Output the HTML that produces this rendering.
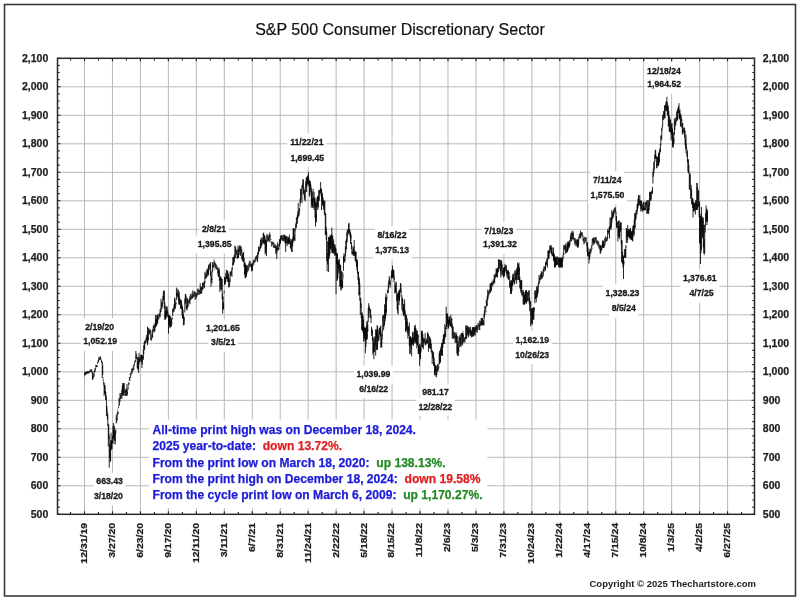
<!DOCTYPE html>
<html><head><meta charset="utf-8"><style>
html,body{margin:0;padding:0;background:#fff;width:800px;height:600px;overflow:hidden}
svg{display:block}
</style></head><body>
<svg width="800" height="600" viewBox="0 0 800 600">
<rect x="4.5" y="4.5" width="791" height="591.5" fill="none" stroke="#3a3a3a" stroke-width="1.6"/>
<text x="400" y="34.7" text-anchor="middle" font-size="16" fill="#111" stroke="#111" stroke-width="0.2" font-family="Liberation Sans, Arial, sans-serif">S&amp;P 500 Consumer Discretionary Sector</text>
<path d="M57.5 485.80H754.5 M57.5 457.30H754.5 M57.5 428.80H754.5 M57.5 400.30H754.5 M57.5 371.80H754.5 M57.5 343.30H754.5 M57.5 314.80H754.5 M57.5 286.30H754.5 M57.5 257.80H754.5 M57.5 229.30H754.5 M57.5 200.80H754.5 M57.5 172.30H754.5 M57.5 143.80H754.5 M57.5 115.30H754.5 M57.5 86.80H754.5" stroke="#b9b9b9" stroke-width="1" fill="none"/>
<path d="M84.50 58.3V514.3 M112.46 58.3V514.3 M140.42 58.3V514.3 M168.38 58.3V514.3 M196.34 58.3V514.3 M224.30 58.3V514.3 M252.26 58.3V514.3 M280.22 58.3V514.3 M308.18 58.3V514.3 M336.14 58.3V514.3 M364.10 58.3V514.3 M392.06 58.3V514.3 M420.02 58.3V514.3 M447.98 58.3V514.3 M475.94 58.3V514.3 M503.90 58.3V514.3 M531.86 58.3V514.3 M559.82 58.3V514.3 M587.78 58.3V514.3 M615.74 58.3V514.3 M643.70 58.3V514.3 M671.66 58.3V514.3 M699.62 58.3V514.3 M727.58 58.3V514.3" stroke="#b8b8b8" stroke-width="1" fill="none"/>
<path d="M57.5 514.30h3M754.5 514.30h-3 M57.5 507.17h2.2M754.5 507.17h-2.2 M57.5 500.05h2.2M754.5 500.05h-2.2 M57.5 492.92h2.2M754.5 492.92h-2.2 M57.5 485.80h3M754.5 485.80h-3 M57.5 478.67h2.2M754.5 478.67h-2.2 M57.5 471.55h2.2M754.5 471.55h-2.2 M57.5 464.42h2.2M754.5 464.42h-2.2 M57.5 457.30h3M754.5 457.30h-3 M57.5 450.17h2.2M754.5 450.17h-2.2 M57.5 443.05h2.2M754.5 443.05h-2.2 M57.5 435.92h2.2M754.5 435.92h-2.2 M57.5 428.80h3M754.5 428.80h-3 M57.5 421.67h2.2M754.5 421.67h-2.2 M57.5 414.55h2.2M754.5 414.55h-2.2 M57.5 407.42h2.2M754.5 407.42h-2.2 M57.5 400.30h3M754.5 400.30h-3 M57.5 393.17h2.2M754.5 393.17h-2.2 M57.5 386.05h2.2M754.5 386.05h-2.2 M57.5 378.92h2.2M754.5 378.92h-2.2 M57.5 371.80h3M754.5 371.80h-3 M57.5 364.67h2.2M754.5 364.67h-2.2 M57.5 357.55h2.2M754.5 357.55h-2.2 M57.5 350.42h2.2M754.5 350.42h-2.2 M57.5 343.30h3M754.5 343.30h-3 M57.5 336.17h2.2M754.5 336.17h-2.2 M57.5 329.05h2.2M754.5 329.05h-2.2 M57.5 321.92h2.2M754.5 321.92h-2.2 M57.5 314.80h3M754.5 314.80h-3 M57.5 307.67h2.2M754.5 307.67h-2.2 M57.5 300.55h2.2M754.5 300.55h-2.2 M57.5 293.42h2.2M754.5 293.42h-2.2 M57.5 286.30h3M754.5 286.30h-3 M57.5 279.17h2.2M754.5 279.17h-2.2 M57.5 272.05h2.2M754.5 272.05h-2.2 M57.5 264.92h2.2M754.5 264.92h-2.2 M57.5 257.80h3M754.5 257.80h-3 M57.5 250.67h2.2M754.5 250.67h-2.2 M57.5 243.55h2.2M754.5 243.55h-2.2 M57.5 236.42h2.2M754.5 236.42h-2.2 M57.5 229.30h3M754.5 229.30h-3 M57.5 222.17h2.2M754.5 222.17h-2.2 M57.5 215.05h2.2M754.5 215.05h-2.2 M57.5 207.92h2.2M754.5 207.92h-2.2 M57.5 200.80h3M754.5 200.80h-3 M57.5 193.67h2.2M754.5 193.67h-2.2 M57.5 186.55h2.2M754.5 186.55h-2.2 M57.5 179.42h2.2M754.5 179.42h-2.2 M57.5 172.30h3M754.5 172.30h-3 M57.5 165.17h2.2M754.5 165.17h-2.2 M57.5 158.05h2.2M754.5 158.05h-2.2 M57.5 150.92h2.2M754.5 150.92h-2.2 M57.5 143.80h3M754.5 143.80h-3 M57.5 136.67h2.2M754.5 136.67h-2.2 M57.5 129.55h2.2M754.5 129.55h-2.2 M57.5 122.42h2.2M754.5 122.42h-2.2 M57.5 115.30h3M754.5 115.30h-3 M57.5 108.17h2.2M754.5 108.17h-2.2 M57.5 101.05h2.2M754.5 101.05h-2.2 M57.5 93.92h2.2M754.5 93.92h-2.2 M57.5 86.80h3M754.5 86.80h-3 M57.5 79.67h2.2M754.5 79.67h-2.2 M57.5 72.55h2.2M754.5 72.55h-2.2 M57.5 65.42h2.2M754.5 65.42h-2.2 M57.5 58.30h3M754.5 58.30h-3 M70.52 58.3v2.2M70.52 514.3v-2.2 M84.50 58.3v3M84.50 514.3v-3 M98.48 58.3v2.2M98.48 514.3v-2.2 M112.46 58.3v3M112.46 514.3v-3 M126.44 58.3v2.2M126.44 514.3v-2.2 M140.42 58.3v3M140.42 514.3v-3 M154.40 58.3v2.2M154.40 514.3v-2.2 M168.38 58.3v3M168.38 514.3v-3 M182.36 58.3v2.2M182.36 514.3v-2.2 M196.34 58.3v3M196.34 514.3v-3 M210.32 58.3v2.2M210.32 514.3v-2.2 M224.30 58.3v3M224.30 514.3v-3 M238.28 58.3v2.2M238.28 514.3v-2.2 M252.26 58.3v3M252.26 514.3v-3 M266.24 58.3v2.2M266.24 514.3v-2.2 M280.22 58.3v3M280.22 514.3v-3 M294.20 58.3v2.2M294.20 514.3v-2.2 M308.18 58.3v3M308.18 514.3v-3 M322.16 58.3v2.2M322.16 514.3v-2.2 M336.14 58.3v3M336.14 514.3v-3 M350.12 58.3v2.2M350.12 514.3v-2.2 M364.10 58.3v3M364.10 514.3v-3 M378.08 58.3v2.2M378.08 514.3v-2.2 M392.06 58.3v3M392.06 514.3v-3 M406.04 58.3v2.2M406.04 514.3v-2.2 M420.02 58.3v3M420.02 514.3v-3 M434.00 58.3v2.2M434.00 514.3v-2.2 M447.98 58.3v3M447.98 514.3v-3 M461.96 58.3v2.2M461.96 514.3v-2.2 M475.94 58.3v3M475.94 514.3v-3 M489.92 58.3v2.2M489.92 514.3v-2.2 M503.90 58.3v3M503.90 514.3v-3 M517.88 58.3v2.2M517.88 514.3v-2.2 M531.86 58.3v3M531.86 514.3v-3 M545.84 58.3v2.2M545.84 514.3v-2.2 M559.82 58.3v3M559.82 514.3v-3 M573.80 58.3v2.2M573.80 514.3v-2.2 M587.78 58.3v3M587.78 514.3v-3 M601.76 58.3v2.2M601.76 514.3v-2.2 M615.74 58.3v3M615.74 514.3v-3 M629.72 58.3v2.2M629.72 514.3v-2.2 M643.70 58.3v3M643.70 514.3v-3 M657.68 58.3v2.2M657.68 514.3v-2.2 M671.66 58.3v3M671.66 514.3v-3 M685.64 58.3v2.2M685.64 514.3v-2.2 M699.62 58.3v3M699.62 514.3v-3 M713.60 58.3v2.2M713.60 514.3v-2.2 M727.58 58.3v3M727.58 514.3v-3 M741.56 58.3v2.2M741.56 514.3v-2.2" stroke="#222" stroke-width="1.1" fill="none"/>
<g font-size="10.5" font-weight="bold" fill="#1e1e1e" stroke="#1e1e1e" stroke-width="0.25" font-family="Liberation Sans, Arial, sans-serif"><text x="48.3" y="517.60" text-anchor="end">500</text><text x="762.8" y="517.60">500</text><text x="48.3" y="489.10" text-anchor="end">600</text><text x="762.8" y="489.10">600</text><text x="48.3" y="460.60" text-anchor="end">700</text><text x="762.8" y="460.60">700</text><text x="48.3" y="432.10" text-anchor="end">800</text><text x="762.8" y="432.10">800</text><text x="48.3" y="403.60" text-anchor="end">900</text><text x="762.8" y="403.60">900</text><text x="48.3" y="375.10" text-anchor="end">1,000</text><text x="762.8" y="375.10">1,000</text><text x="48.3" y="346.60" text-anchor="end">1,100</text><text x="762.8" y="346.60">1,100</text><text x="48.3" y="318.10" text-anchor="end">1,200</text><text x="762.8" y="318.10">1,200</text><text x="48.3" y="289.60" text-anchor="end">1,300</text><text x="762.8" y="289.60">1,300</text><text x="48.3" y="261.10" text-anchor="end">1,400</text><text x="762.8" y="261.10">1,400</text><text x="48.3" y="232.60" text-anchor="end">1,500</text><text x="762.8" y="232.60">1,500</text><text x="48.3" y="204.10" text-anchor="end">1,600</text><text x="762.8" y="204.10">1,600</text><text x="48.3" y="175.60" text-anchor="end">1,700</text><text x="762.8" y="175.60">1,700</text><text x="48.3" y="147.10" text-anchor="end">1,800</text><text x="762.8" y="147.10">1,800</text><text x="48.3" y="118.60" text-anchor="end">1,900</text><text x="762.8" y="118.60">1,900</text><text x="48.3" y="90.10" text-anchor="end">2,000</text><text x="762.8" y="90.10">2,000</text><text x="48.3" y="61.60" text-anchor="end">2,100</text><text x="762.8" y="61.60">2,100</text></g>
<g font-size="10.5" font-weight="bold" fill="#1e1e1e" stroke="#1e1e1e" stroke-width="0.25" font-family="Liberation Sans, Arial, sans-serif"><text transform="translate(86.90 522.8) rotate(-90) scale(1 0.92)" text-anchor="end">12/31/19</text><text transform="translate(114.86 522.8) rotate(-90) scale(1 0.92)" text-anchor="end">3/27/20</text><text transform="translate(142.82 522.8) rotate(-90) scale(1 0.92)" text-anchor="end">6/23/20</text><text transform="translate(170.78 522.8) rotate(-90) scale(1 0.92)" text-anchor="end">9/17/20</text><text transform="translate(198.74 522.8) rotate(-90) scale(1 0.92)" text-anchor="end">12/11/20</text><text transform="translate(226.70 522.8) rotate(-90) scale(1 0.92)" text-anchor="end">3/11/21</text><text transform="translate(254.66 522.8) rotate(-90) scale(1 0.92)" text-anchor="end">6/7/21</text><text transform="translate(282.62 522.8) rotate(-90) scale(1 0.92)" text-anchor="end">8/31/21</text><text transform="translate(310.58 522.8) rotate(-90) scale(1 0.92)" text-anchor="end">11/24/21</text><text transform="translate(338.54 522.8) rotate(-90) scale(1 0.92)" text-anchor="end">2/22/22</text><text transform="translate(366.50 522.8) rotate(-90) scale(1 0.92)" text-anchor="end">5/18/22</text><text transform="translate(394.46 522.8) rotate(-90) scale(1 0.92)" text-anchor="end">8/15/22</text><text transform="translate(422.42 522.8) rotate(-90) scale(1 0.92)" text-anchor="end">11/8/22</text><text transform="translate(450.38 522.8) rotate(-90) scale(1 0.92)" text-anchor="end">2/6/23</text><text transform="translate(478.34 522.8) rotate(-90) scale(1 0.92)" text-anchor="end">5/3/23</text><text transform="translate(506.30 522.8) rotate(-90) scale(1 0.92)" text-anchor="end">7/31/23</text><text transform="translate(534.26 522.8) rotate(-90) scale(1 0.92)" text-anchor="end">10/24/23</text><text transform="translate(562.22 522.8) rotate(-90) scale(1 0.92)" text-anchor="end">1/22/24</text><text transform="translate(590.18 522.8) rotate(-90) scale(1 0.92)" text-anchor="end">4/17/24</text><text transform="translate(618.14 522.8) rotate(-90) scale(1 0.92)" text-anchor="end">7/15/24</text><text transform="translate(646.10 522.8) rotate(-90) scale(1 0.92)" text-anchor="end">10/8/24</text><text transform="translate(674.06 522.8) rotate(-90) scale(1 0.92)" text-anchor="end">1/3/25</text><text transform="translate(702.02 522.8) rotate(-90) scale(1 0.92)" text-anchor="end">4/2/25</text><text transform="translate(729.98 522.8) rotate(-90) scale(1 0.92)" text-anchor="end">6/27/25</text></g>
<path d="M84.50 372.0V376.5M84.97 372.0V375.2M85.43 371.9V375.3M85.90 371.5V374.5M86.37 371.5V374.5M86.83 371.5V374.1M87.30 371.5V373.5M87.77 371.5V374.0M88.23 371.5V373.6M88.70 371.5V373.3M89.17 371.5V373.2M89.63 370.9V372.7M90.10 369.7V372.0M90.57 369.6V371.5M91.03 369.0V371.5M91.50 369.9V372.1M91.97 370.0V374.0M92.90 375.6V379.3M93.37 373.1V378.7M93.83 371.0V377.0M94.30 370.3V375.9M94.77 368.0V372.0M95.23 368.0V372.0M95.70 365.0V369.3M96.17 365.0V367.6M96.63 365.0V367.0M97.10 365.2V367.0M97.57 361.8V364.5M98.03 360.0V363.0M98.50 357.0V362.0M98.97 357.4V361.0M99.43 357.5V360.0M99.90 356.5V360.1M100.37 356.5V360.0M100.83 358.0V360.1M101.30 360.0V362.4M101.77 360.0V363.6M103.17 377.1V383.0M103.63 382.0V386.0M105.97 392.0V397.7M115.77 428.4V434.0M116.70 417.5V423.3M117.63 409.3V415.0M118.10 411.2V414.3M118.57 405.9V408.3M119.50 398.5V405.3M120.43 395.1V399.0M120.90 393.0V398.8M121.37 393.0V397.5M124.63 389.2V396.0M125.10 390.4V396.0M125.57 390.0V395.7M126.50 388.4V394.9M127.43 389.8V395.4M127.90 387.2V390.4M128.37 382.5V388.0M128.83 381.7V385.3M129.30 377.1V381.0M129.77 377.0V381.0M130.23 373.0V378.1M130.70 373.0V378.0M131.17 371.1V375.5M131.63 368.4V374.0M132.10 368.0V374.0M132.57 368.7V372.2M133.03 366.6V371.3M133.50 364.9V370.0M133.97 364.0V370.0M134.43 361.9V365.8M134.90 360.0V363.0M135.37 359.3V362.4M136.30 353.9V359.0M136.77 353.5V359.7M139.57 357.4V362.0M140.03 357.3V361.8M140.50 355.1V361.6M140.97 354.8V360.7M142.83 355.0V360.3M145.17 340.7V343.7M145.63 338.7V343.5M146.10 336.7V342.4M146.57 334.8V341.8M147.97 337.1V343.0M148.90 328.2V334.0M149.37 329.6V334.8M149.83 329.0V335.1M150.30 328.9V333.5M151.23 335.6V340.7M151.70 334.0V340.7M152.17 331.3V337.2M153.10 326.2V332.0M153.57 324.3V330.2M154.50 325.0V331.7M158.23 313.7V319.6M158.70 316.4V319.7M159.17 313.1V317.3M159.63 312.7V317.3M160.57 308.2V313.4M161.50 302.5V308.7M162.43 301.1V307.1M167.57 309.6V316.1M168.03 311.8V316.7M171.77 319.9V324.5M172.23 316.4V320.1M173.17 307.8V313.0M173.63 306.8V311.8M175.50 302.6V309.0M175.97 300.2V306.0M176.90 291.4V296.0M177.37 292.3V297.5M180.17 299.1V302.8M184.37 317.0V323.0M186.70 305.0V310.2M188.10 302.8V306.5M188.57 299.7V304.3M189.03 298.8V302.9M189.50 297.9V303.4M190.43 294.0V299.7M190.90 293.7V299.7M191.37 295.6V299.7M191.83 292.7V298.3M192.30 294.9V298.9M193.23 292.0V297.1M193.70 294.4V297.3M194.17 290.9V297.3M194.63 291.1V295.7M195.57 293.3V297.4M196.03 292.7V298.8M196.50 293.3V298.4M196.97 292.1V296.8M197.43 289.3V295.6M197.90 288.0V294.8M198.37 288.7V295.0M198.83 289.4V293.6M199.30 289.7V295.0M199.77 290.0V294.4M200.70 286.8V293.8M201.63 286.9V293.8M202.10 286.9V291.9M203.03 282.4V287.4M203.50 282.6V289.2M203.97 282.2V286.5M205.37 273.0V278.7M205.83 273.3V278.8M206.30 272.7V278.4M207.23 270.2V273.3M209.10 264.4V269.4M209.57 263.6V270.5M210.03 262.6V267.1M211.43 276.1V282.3M212.83 264.5V271.0M213.30 263.4V268.0M213.77 261.1V267.5M214.23 259.3V265.2M214.70 261.0V267.7M215.17 263.0V269.8M215.63 262.8V268.2M216.10 263.9V267.9M216.57 264.8V269.8M217.03 266.7V270.0M217.50 266.6V273.6M217.97 270.5V276.2M220.77 277.1V284.0M224.03 290.5V294.1M224.97 277.5V284.4M226.83 275.7V279.0M229.63 279.4V286.3M230.57 271.8V275.9M231.03 271.1V275.4M231.50 269.8V275.8M232.43 262.7V269.2M235.23 245.8V252.7M236.17 250.2V254.5M236.63 249.3V254.9M237.57 253.3V258.5M238.97 247.1V251.6M239.43 245.5V252.0M240.83 245.5V250.8M241.30 247.0V253.8M242.23 255.3V260.9M247.37 265.4V272.1M247.83 266.8V271.3M248.30 264.3V271.1M248.77 263.2V269.8M249.23 260.8V267.7M249.70 260.8V266.7M250.17 260.8V266.7M250.63 262.4V266.7M251.10 262.8V267.5M252.03 265.9V271.3M252.97 261.2V266.7M253.43 259.7V264.3M253.90 260.0V265.5M254.37 259.8V262.7M254.83 259.2V262.7M255.30 257.5V262.1M255.77 256.2V260.5M256.23 255.6V260.0M256.70 255.0V259.3M257.17 255.4V262.0M258.10 250.5V256.9M259.03 246.8V251.1M259.50 246.8V252.1M259.97 244.5V250.8M261.37 240.5V246.8M262.30 237.4V243.0M262.77 238.8V244.6M267.43 235.0V241.0M267.90 235.6V240.4M268.37 236.4V241.4M268.83 234.8V241.6M269.77 231.7V238.6M270.23 234.5V237.9M270.70 238.0V241.5M271.17 241.4V244.3M271.63 241.6V246.8M272.10 242.2V246.5M272.57 241.7V244.7M273.03 242.3V245.0M273.50 241.6V247.7M273.97 245.3V248.0M274.43 244.4V248.0M274.90 243.3V247.9M275.37 244.6V249.4M276.30 247.3V253.8M277.23 245.5V252.3M278.17 243.6V250.3M278.63 247.1V250.3M279.10 244.0V249.2M280.03 239.3V244.2M280.97 235.2V240.8M281.43 235.2V240.6M281.90 235.1V240.1M282.37 235.9V241.1M282.83 234.6V240.6M283.30 234.9V241.2M283.77 235.3V241.3M284.70 234.7V239.7M286.57 236.2V243.0M287.50 238.4V243.5M288.90 238.2V242.9M289.83 238.0V243.6M291.23 241.0V248.0M294.50 235.0V240.3M295.43 223.5V230.2M295.90 223.3V228.3M296.83 217.7V224.4M298.70 210.2V216.4M299.63 207.2V212.1M301.50 188.6V195.6M302.43 183.2V189.7M304.77 193.8V200.2M308.03 175.2V180.4M313.63 196.3V202.6M319.70 190.2V194.8M320.17 188.0V193.6M323.90 201.0V207.7M334.17 246.4V252.4M343.03 272.5V279.4M344.43 256.9V262.4M347.70 229.1V234.8M348.17 228.7V235.3M349.57 229.2V235.0M352.37 250.7V254.5M352.83 248.5V254.8M354.70 249.9V256.4M369.17 305.3V311.0M369.63 306.5V312.8M371.97 327.7V333.6M378.50 335.3V340.5M379.90 327.6V334.1M383.17 314.8V321.3M384.10 321.2V327.5M386.90 294.5V301.2M387.37 289.1V293.5M387.83 289.9V293.5M389.70 277.9V283.6M390.17 280.3V286.8M390.63 281.5V287.7M391.10 275.2V281.6M394.37 275.2V280.2M401.37 290.7V294.3M408.83 326.8V332.6M412.10 338.4V344.5M423.77 338.8V343.4M424.23 338.8V342.8M424.70 337.6V343.5M425.63 340.9V345.0M426.10 338.8V345.0M426.57 338.2V344.0M427.03 338.9V343.5M427.97 331.8V337.8M428.90 342.6V347.9M431.70 347.9V353.8M433.10 351.5V358.3M437.30 364.0V370.8M438.23 365.3V370.9M438.70 363.5V369.4M445.23 330.6V337.3M448.97 317.7V323.8M450.37 321.5V326.8M453.63 333.3V338.9M454.10 331.6V338.5M454.57 332.1V338.0M455.50 335.1V340.2M459.70 336.5V341.6M461.57 333.0V338.1M462.97 330.7V337.1M463.90 337.3V341.5M464.37 337.3V342.2M464.83 337.3V342.6M465.30 336.9V340.7M467.17 325.6V329.7M469.50 327.7V333.1M469.97 329.1V335.4M470.90 330.7V334.7M471.83 330.8V337.2M474.17 327.1V333.8M475.57 326.3V332.1M476.03 327.3V331.7M476.50 325.0V331.1M477.43 326.1V331.3M477.90 322.5V329.4M478.37 323.1V327.4M478.83 323.8V330.0M479.30 323.6V329.5M480.23 321.1V326.3M480.70 321.1V325.5M482.10 317.9V322.5M483.03 320.5V325.4M483.50 319.9V325.4M485.37 306.0V309.7M485.83 306.4V312.5M486.77 300.7V306.0M488.17 291.6V298.5M488.63 290.4V296.7M489.10 289.9V295.4M489.57 289.4V293.0M490.97 286.0V290.4M491.90 282.1V286.1M492.37 280.5V287.3M492.83 281.4V285.1M493.30 278.8V285.3M493.77 279.5V283.3M495.17 274.5V279.0M495.63 272.7V278.0M497.03 268.5V273.5M497.97 267.0V273.5M499.37 259.5V265.0M502.63 269.6V275.2M503.10 267.9V274.0M505.43 265.6V270.9M505.90 265.0V270.6M506.83 270.5V276.6M507.77 271.2V274.4M509.17 272.3V276.1M510.10 282.1V288.5M513.83 277.3V283.0M514.30 279.0V284.6M515.70 273.3V280.0M522.23 291.7V296.6M522.70 290.0V295.5M526.90 292.1V297.2M527.83 296.1V301.3M528.77 291.2V296.4M530.17 300.7V306.9M534.37 307.0V311.9M535.77 293.1V299.0M538.57 281.2V286.9M539.50 277.6V283.8M539.97 275.0V281.8M540.43 273.6V280.1M540.90 273.5V279.8M542.30 274.5V277.8M542.77 272.1V277.9M543.70 266.3V273.1M544.17 266.3V271.9M544.63 266.3V269.6M545.10 266.0V271.4M546.03 261.5V265.5M546.50 258.8V265.6M546.97 258.8V265.4M549.30 249.6V256.3M550.23 245.0V250.1M550.70 246.2V252.5M552.57 252.7V256.3M553.03 251.9V256.3M557.23 260.4V265.0M558.17 257.0V262.3M562.83 255.0V261.8M563.30 252.5V259.3M564.23 245.0V250.2M564.70 245.0V249.4M565.17 245.1V250.8M566.10 246.8V252.8M566.57 246.2V252.5M568.90 243.0V246.8M569.83 240.0V245.9M570.30 236.3V242.7M571.23 235.4V241.6M572.63 233.0V238.9M573.57 233.4V240.2M574.03 237.2V241.4M574.50 238.0V244.4M574.97 240.2V244.4M575.43 238.0V243.0M576.37 240.1V246.1M576.83 239.1V244.5M579.17 234.2V238.8M579.63 233.5V237.9M580.10 233.6V237.9M581.03 232.4V238.9M581.50 232.4V236.1M581.97 232.4V234.7M582.43 232.4V237.0M582.90 234.9V241.0M583.37 238.1V244.4M583.83 236.1V242.2M584.30 238.1V244.2M584.77 236.9V243.3M585.23 237.1V240.5M585.70 237.4V242.5M586.17 237.0V242.0M586.63 241.4V246.4M588.50 251.7V257.1M590.37 248.6V253.6M590.83 248.6V254.4M591.30 245.7V252.2M591.77 244.5V249.8M592.70 238.0V242.8M593.17 238.3V242.1M594.57 239.4V242.7M595.03 237.8V242.5M595.50 237.0V242.5M595.97 237.1V240.8M596.43 238.0V243.8M596.90 239.8V244.5M597.37 240.9V244.8M597.83 240.2V246.4M598.30 241.0V245.4M598.77 241.6V247.5M599.23 243.7V249.6M599.70 244.9V249.3M601.10 245.3V251.2M601.57 246.0V251.2M602.03 243.7V250.1M603.90 240.7V246.7M604.37 243.1V248.0M605.30 236.4V243.4M605.77 236.0V242.2M606.23 237.3V241.7M606.70 237.5V241.5M607.17 237.0V241.1M608.10 228.2V235.1M608.57 229.9V233.7M609.03 226.9V233.5M610.43 223.0V229.1M612.77 212.5V219.0M613.23 211.6V218.2M614.17 208.0V213.9M614.63 207.9V213.4M615.10 207.0V212.1M615.57 207.0V212.9M616.97 221.4V228.0M617.43 221.9V227.2M623.97 259.5V265.5M624.90 253.0V258.0M636.57 210.0V214.5M639.37 200.1V205.0M640.30 200.9V206.8M642.63 205.4V211.4M643.10 205.6V211.1M644.50 206.7V210.3M644.97 206.5V210.3M645.90 202.0V206.1M646.37 201.6V207.2M647.77 207.9V212.8M651.50 190.9V197.3M651.97 190.0V193.8M656.17 155.3V161.2M658.03 156.6V163.4M659.90 147.7V154.3M661.30 135.1V140.5M662.23 124.9V130.4M663.17 114.8V119.9M664.10 111.1V117.7M665.50 104.7V110.5M675.30 119.2V126.2M676.23 118.5V122.0M678.10 106.8V113.4M681.37 115.7V121.7M683.23 127.5V134.4M683.70 128.1V132.5M684.17 127.7V133.4M686.50 143.5V149.5M692.10 197.8V204.6M694.90 202.5V208.4" fill="none" stroke="#000" stroke-width="0.5"/><path d="M92.43 372.4V380.0M102.23 362.0V378.0M102.70 364.5V375.1M104.10 382.6V396.0M104.57 384.8V394.0M105.03 385.0V393.6M105.50 390.9V400.0M106.43 396.8V416.0M106.90 405.8V412.8M107.37 411.9V419.6M107.83 414.0V426.0M108.30 424.5V446.7M108.77 424.5V439.4M109.23 435.2V467.7M109.70 444.0V457.6M110.17 446.8V462.0M110.63 440.4V461.2M111.10 432.7V450.4M111.57 440.2V449.0M112.03 439.8V449.0M112.50 435.8V443.0M112.97 426.4V438.5M113.43 423.0V438.5M113.90 430.0V444.3M114.37 425.7V440.4M114.83 431.7V440.9M115.30 430.1V444.3M116.23 415.0V423.3M117.17 412.9V420.3M119.03 398.0V406.0M119.97 393.0V402.0M121.83 389.6V399.0M122.30 385.8V394.0M122.77 383.0V396.0M123.23 383.0V395.4M123.70 384.2V395.3M124.17 383.0V392.2M126.03 388.7V396.0M126.97 384.0V396.0M135.83 351.0V359.2M137.23 357.0V368.1M137.70 361.2V369.6M138.17 358.0V369.4M138.63 356.9V373.0M139.10 353.0V364.4M141.43 354.6V362.2M141.90 355.0V368.0M142.37 355.5V364.7M143.30 349.6V359.7M143.77 345.2V354.2M144.23 341.9V349.5M144.70 340.7V350.0M147.03 334.8V342.3M147.50 326.7V345.3M148.43 327.8V340.3M150.77 330.4V340.1M152.63 329.3V337.9M154.03 325.5V332.5M154.97 323.1V331.4M155.43 315.0V327.4M155.90 319.6V327.0M156.37 318.3V325.5M156.83 315.0V325.5M157.30 315.3V323.6M157.77 314.6V323.6M160.10 309.0V317.3M161.03 298.7V311.9M161.97 301.5V309.0M162.90 295.9V303.9M163.37 291.3V299.9M163.83 290.5V301.0M164.30 290.5V308.4M164.77 302.0V319.7M165.23 311.0V319.7M165.70 305.7V319.3M166.17 310.3V318.0M166.63 306.8V315.4M167.10 306.4V317.3M168.50 315.0V333.7M168.97 315.0V324.0M169.43 315.0V326.0M169.90 316.8V328.2M170.37 316.0V327.2M170.83 317.9V326.7M171.30 318.3V326.7M172.70 308.8V316.0M174.10 304.3V311.8M174.57 297.5V307.9M175.03 298.8V309.0M176.43 287.6V299.9M177.83 288.7V297.2M178.30 290.6V300.1M178.77 294.5V304.5M179.23 291.7V304.5M179.70 297.3V304.9M180.63 299.7V309.0M181.10 299.7V307.8M181.57 301.4V309.3M182.03 304.7V315.7M182.50 306.7V318.3M182.97 309.3V318.7M183.43 314.0V325.3M183.90 316.4V325.3M184.83 298.5V312.5M185.30 294.0V304.2M185.77 293.8V302.2M186.23 296.6V308.9M187.17 298.5V310.2M187.63 298.3V308.0M189.97 295.8V304.3M192.77 290.3V297.9M195.10 292.1V300.0M200.23 283.3V294.0M201.17 286.5V293.8M202.57 282.8V289.9M204.43 281.0V288.2M204.90 271.7V283.2M206.77 269.4V277.3M207.70 269.0V276.3M208.17 267.0V275.7M208.63 264.8V274.2M210.50 262.3V276.2M210.97 271.2V286.8M211.90 271.7V283.6M212.37 262.0V272.4M218.43 268.4V276.8M218.90 267.5V276.8M219.37 269.6V280.8M219.83 275.7V292.0M220.30 276.3V289.6M221.23 277.6V289.9M221.70 279.0V290.3M222.17 279.0V299.0M222.63 293.8V313.6M223.10 296.7V309.6M223.57 302.4V309.4M224.50 276.8V285.0M225.43 276.8V284.2M225.90 272.8V281.6M226.37 269.8V279.0M227.30 270.3V279.0M227.77 271.0V281.8M228.23 273.3V282.1M228.70 274.8V287.3M229.17 278.1V287.3M230.10 271.5V282.0M231.97 267.3V276.8M232.90 257.0V265.2M233.37 257.0V265.2M233.83 256.8V263.8M234.30 254.7V261.8M234.77 245.5V258.5M235.70 247.0V258.0M237.10 250.0V258.5M238.03 245.5V258.4M238.50 248.4V257.6M239.90 245.5V254.9M240.37 246.4V256.0M241.77 248.9V259.2M242.70 253.6V260.8M243.17 252.0V262.0M243.63 252.5V262.0M244.10 257.7V267.1M244.57 262.0V274.7M245.03 262.2V278.0M245.50 264.2V278.3M245.97 265.5V276.7M246.43 265.5V276.8M246.90 265.0V273.9M251.57 264.0V271.3M252.50 263.2V270.3M257.63 252.5V262.0M258.57 246.8V254.3M260.43 240.1V248.7M260.90 238.4V247.8M261.83 237.5V245.5M263.23 232.8V243.3M263.70 232.8V243.3M264.17 235.1V242.9M264.63 235.3V244.4M265.10 239.1V254.7M265.57 240.2V252.9M266.03 236.3V249.8M266.50 240.6V256.2M266.97 234.0V241.8M269.30 233.7V242.2M275.83 245.7V254.0M276.77 245.5V259.0M277.70 242.2V250.6M279.57 238.9V246.7M280.50 235.9V243.3M284.23 234.6V241.9M285.17 235.7V243.3M285.63 235.8V252.0M286.10 236.5V244.0M287.03 236.2V246.1M287.97 236.9V244.5M288.43 237.1V244.2M289.37 234.6V244.0M290.30 239.2V247.9M290.77 242.3V249.3M291.70 239.4V252.0M292.17 239.4V252.0M292.63 237.7V246.4M293.10 228.3V242.5M293.57 228.3V239.9M294.03 228.3V241.0M294.97 228.4V241.0M296.37 217.2V228.3M297.30 215.1V223.7M297.77 211.8V219.4M298.23 203.0V217.2M299.17 208.2V215.5M300.10 198.7V206.6M300.57 188.7V203.0M301.03 190.5V199.8M301.97 185.1V203.0M302.90 179.2V187.2M303.37 179.6V193.8M303.83 186.6V194.5M304.30 190.1V199.6M305.23 188.7V201.4M305.70 181.6V192.0M306.17 177.7V186.8M306.63 176.8V192.0M307.10 178.4V186.0M307.57 175.7V184.0M308.50 172.1V184.7M308.97 178.8V186.2M309.43 180.8V196.6M309.90 180.8V195.4M310.37 181.3V188.5M310.83 184.5V192.3M311.30 187.6V207.7M311.77 190.7V204.7M312.23 191.4V205.9M312.70 198.2V208.0M313.17 188.7V207.7M314.10 192.0V210.0M314.57 197.7V207.2M315.03 197.6V218.0M315.50 201.8V226.5M315.97 213.1V220.7M316.43 202.8V222.4M316.90 198.1V208.6M317.37 196.0V205.7M317.83 196.8V210.0M318.30 195.4V207.7M318.77 190.2V201.1M319.23 190.2V200.7M320.63 182.0V193.0M321.10 188.3V196.0M321.57 189.1V210.0M322.03 192.5V201.1M322.50 193.6V205.4M322.97 197.2V205.2M323.43 199.5V209.7M324.37 200.7V214.7M324.83 200.7V215.3M325.30 213.5V235.0M325.77 213.5V235.0M326.23 227.2V240.2M326.70 232.0V261.3M327.17 241.0V271.4M327.63 253.1V264.4M328.10 241.6V259.0M328.57 237.0V272.0M329.03 237.0V259.0M329.50 237.1V256.6M329.97 235.1V254.3M330.43 235.6V248.7M330.90 236.1V249.6M331.37 234.0V248.1M331.83 227.5V252.9M332.30 235.5V252.6M332.77 235.8V253.3M333.23 241.8V253.3M333.70 239.5V253.5M334.63 244.0V255.7M335.10 245.0V255.3M335.57 247.5V255.2M336.03 248.7V294.2M336.50 253.3V264.2M336.97 253.3V281.0M337.43 253.3V279.8M337.90 261.4V278.1M338.37 260.1V268.5M338.83 259.6V273.2M339.30 259.0V271.0M339.77 263.7V286.7M340.23 265.0V286.2M340.70 265.0V289.6M341.17 279.8V290.7M341.63 270.8V287.1M342.10 272.0V288.3M342.57 279.7V288.3M343.50 256.2V270.8M343.97 253.3V262.9M344.90 253.7V261.8M345.37 247.0V256.8M345.83 240.9V253.1M346.30 239.3V249.5M346.77 232.4V243.3M347.23 230.0V241.7M348.63 223.6V233.3M349.10 222.8V233.2M350.03 229.8V236.9M350.50 232.2V244.0M350.97 233.8V241.2M351.43 242.0V249.2M351.90 245.2V254.5M353.30 246.8V255.4M353.77 246.7V256.0M354.23 240.0V256.0M355.17 251.7V261.0M355.63 251.7V260.9M356.10 251.7V263.1M356.57 259.0V267.1M357.03 261.8V270.5M357.50 259.8V273.5M357.97 271.5V279.8M358.43 271.7V284.3M358.90 276.5V295.5M359.37 278.5V295.0M359.83 283.3V300.7M360.30 297.5V314.8M360.77 298.3V308.0M361.23 303.5V318.3M361.70 312.5V330.0M362.17 312.5V330.0M362.63 314.4V331.2M363.10 316.0V333.0M363.57 319.5V341.7M364.03 326.3V335.1M364.50 327.7V338.8M364.97 327.7V341.1M365.43 327.7V353.3M365.90 328.2V347.0M366.37 325.7V340.5M366.83 321.5V339.3M367.30 320.7V339.3M367.77 323.9V331.7M368.23 308.0V322.4M368.70 303.2V317.7M370.10 309.0V317.8M370.57 309.0V317.6M371.03 314.7V323.0M371.50 326.7V335.8M372.43 329.9V340.7M372.90 336.4V354.7M373.37 338.2V352.1M373.83 342.9V359.2M374.30 341.3V352.3M374.77 336.6V351.6M375.23 336.5V345.7M375.70 329.4V355.7M376.17 329.1V338.1M376.63 330.5V349.8M377.10 325.3V349.8M377.57 325.7V349.8M378.03 331.7V341.6M378.97 328.8V340.5M379.43 327.7V334.9M380.37 326.7V336.7M380.83 325.3V347.5M381.30 333.1V347.5M381.77 338.9V347.4M382.23 330.6V339.5M382.70 315.7V331.5M383.63 314.8V330.0M384.57 304.3V325.3M385.03 309.3V321.9M385.50 296.9V318.8M385.97 293.5V315.7M386.43 297.5V312.5M388.30 283.8V292.9M388.77 280.5V288.7M389.23 276.0V285.0M391.57 270.8V278.3M392.03 269.6V278.3M392.50 265.5V278.0M392.97 269.1V277.1M393.43 270.2V277.3M393.90 270.2V281.8M394.83 281.4V293.1M395.30 285.9V293.5M395.77 283.3V290.8M396.23 281.8V292.0M396.70 290.8V301.1M397.17 294.1V309.8M397.63 293.5V313.1M398.10 292.9V314.5M398.57 291.4V300.0M399.03 290.7V305.0M399.50 290.0V301.2M399.97 288.7V296.8M400.43 283.0V291.5M400.90 283.5V292.3M401.83 294.7V309.8M402.30 297.4V305.0M402.77 299.1V312.4M403.23 305.6V315.2M403.70 304.0V315.2M404.17 303.8V316.7M404.63 299.3V314.1M405.10 310.3V320.2M405.57 313.3V331.8M406.03 320.5V331.8M406.50 315.0V329.9M406.97 317.6V325.0M407.43 321.4V333.2M407.90 325.7V338.8M408.37 326.0V336.0M409.30 322.5V346.0M409.77 336.5V354.1M410.23 336.5V353.8M410.70 336.5V345.0M411.17 337.2V348.9M411.63 338.4V356.3M412.57 331.8V343.8M413.03 333.1V345.8M413.50 337.3V345.2M413.97 331.7V343.9M414.43 325.7V340.3M414.90 328.1V342.3M415.37 324.8V342.3M415.83 327.9V343.3M416.30 330.2V343.7M416.77 330.7V348.2M417.23 330.7V345.8M417.70 333.9V345.0M418.17 334.8V353.8M418.63 345.2V354.0M419.10 345.2V353.5M419.57 344.3V365.7M420.03 343.5V356.4M420.50 347.2V359.3M420.97 345.5V352.5M421.43 330.7V347.0M421.90 331.5V339.8M422.37 330.7V347.0M422.83 334.0V347.9M423.30 337.7V349.3M425.17 333.0V345.5M427.50 332.5V343.5M428.43 334.1V351.7M429.37 336.5V348.1M429.83 336.5V348.0M430.30 338.5V349.0M430.77 339.4V348.5M431.23 343.4V352.3M432.17 350.7V364.0M432.63 350.7V358.7M433.57 352.4V365.7M434.03 357.2V366.0M434.50 362.0V375.3M434.97 365.7V374.9M435.43 364.8V372.5M435.90 365.6V376.5M436.37 369.3V377.3M436.83 365.9V374.8M437.77 364.2V371.6M439.17 352.7V364.4M439.63 350.7V364.0M440.10 353.9V363.1M440.57 348.7V362.0M441.03 346.4V354.1M441.50 342.7V355.0M441.97 348.3V356.0M442.43 342.7V356.0M442.90 338.9V348.0M443.37 334.8V344.0M443.83 334.2V344.0M444.30 333.3V344.0M444.77 324.0V339.7M445.70 326.2V336.9M446.17 306.7V329.3M446.63 313.8V326.6M447.10 313.3V326.7M447.57 313.6V323.6M448.03 316.1V329.3M448.50 319.7V328.2M449.43 316.9V324.7M449.90 316.2V326.5M450.83 314.7V326.7M451.30 319.0V326.7M451.77 317.9V328.3M452.23 323.5V338.7M452.70 326.7V335.8M453.17 326.7V338.7M455.03 333.1V342.7M455.97 332.0V342.9M456.43 333.8V343.1M456.90 335.3V353.6M457.37 343.7V355.3M457.83 336.0V356.0M458.30 346.9V355.8M458.77 341.0V352.0M459.23 336.9V347.3M460.17 334.7V343.3M460.63 337.2V346.6M461.10 333.3V346.7M462.03 332.9V344.5M462.50 333.0V345.3M463.43 334.9V342.7M465.77 325.3V338.8M466.23 327.9V338.7M466.70 325.3V338.7M467.63 326.2V335.0M468.10 326.7V336.2M468.57 328.7V337.3M469.03 326.7V334.5M470.43 327.0V336.0M471.37 330.0V337.5M472.30 327.3V336.0M472.77 327.1V336.8M473.23 327.0V336.6M473.70 327.5V335.3M474.63 327.5V334.8M475.10 325.6V336.0M476.97 325.1V333.1M479.77 320.5V330.0M481.17 318.0V325.5M481.63 318.0V325.5M482.57 317.9V325.3M483.97 313.7V325.5M484.43 310.3V317.7M484.90 306.0V315.0M486.30 299.4V306.9M487.23 295.5V306.0M487.70 289.5V300.3M490.03 283.5V292.5M490.50 283.5V292.5M491.43 282.2V291.0M494.23 274.5V282.7M494.70 274.6V283.5M496.10 268.5V276.6M496.57 268.8V277.1M497.50 268.1V277.5M498.43 259.5V271.7M498.90 259.5V268.1M499.83 259.7V269.0M500.30 262.6V271.0M500.77 260.0V277.5M501.23 260.0V274.3M501.70 261.4V269.6M502.17 264.5V276.0M503.57 267.5V277.5M504.03 268.8V276.7M504.50 266.6V275.4M504.97 263.8V272.3M506.37 265.3V274.3M507.30 270.0V278.3M508.23 270.0V279.2M508.70 271.3V280.0M509.63 275.6V287.7M510.57 280.5V293.8M511.03 281.9V293.8M511.50 280.0V293.8M511.97 282.6V291.0M512.43 276.5V286.3M512.90 273.8V285.0M513.37 273.8V282.5M514.77 271.2V284.2M515.23 270.0V280.5M516.17 272.4V279.6M516.63 268.8V283.8M517.10 267.6V280.0M517.57 262.5V274.9M518.03 267.1V280.0M518.50 263.9V280.0M518.97 262.5V274.5M519.43 267.5V282.1M519.90 276.8V288.2M520.37 281.1V289.5M520.83 280.0V292.5M521.30 280.0V292.5M521.77 280.0V295.5M523.17 290.0V304.3M523.63 292.7V304.6M524.10 291.8V305.0M524.57 294.5V304.2M525.03 294.9V303.8M525.50 290.9V302.5M525.97 290.0V302.0M526.43 290.0V303.8M527.37 292.1V301.6M528.30 290.9V301.3M529.23 290.0V303.9M529.70 297.5V311.3M530.63 301.1V326.3M531.10 307.9V315.6M531.57 308.8V323.6M532.03 315.7V325.3M532.50 308.2V323.2M532.97 307.9V316.0M533.43 307.5V319.3M533.90 307.5V320.0M534.83 290.8V303.3M535.30 290.0V299.0M536.23 291.7V302.5M536.70 286.6V297.7M537.17 286.0V297.5M537.63 287.9V295.1M538.10 283.7V292.9M539.03 275.0V283.8M541.37 271.5V278.8M541.83 271.3V278.8M543.23 268.8V276.2M545.57 261.8V270.5M547.43 258.3V267.5M547.90 250.7V259.5M548.37 250.8V258.8M548.83 250.0V258.8M549.77 245.6V253.2M551.17 245.0V253.4M551.63 247.1V254.3M552.10 247.5V256.2M553.50 247.5V260.6M553.97 253.2V261.6M554.43 254.4V267.5M554.90 257.6V267.5M555.37 257.5V267.2M555.83 256.3V266.1M556.30 256.9V265.0M556.77 257.1V265.0M557.70 256.5V264.9M558.63 258.1V267.1M559.10 257.5V267.5M559.57 258.1V267.5M560.03 257.5V266.9M560.50 258.2V267.5M560.97 257.5V266.9M561.43 257.5V267.5M561.90 259.4V267.1M562.37 257.5V267.5M563.77 245.0V255.0M565.63 243.7V253.7M567.03 242.5V252.5M567.50 243.3V251.9M567.97 241.2V250.6M568.43 241.8V248.8M569.37 240.6V247.7M570.77 233.3V241.2M571.70 232.3V240.6M572.17 230.6V239.3M573.10 231.3V238.9M575.90 238.9V246.2M577.30 239.5V247.1M577.77 239.8V248.0M578.23 239.8V247.2M578.70 236.9V244.5M580.57 230.6V237.9M587.10 242.5V252.0M587.57 242.5V256.3M588.03 247.5V255.3M588.97 251.7V263.6M589.43 251.7V259.8M589.90 248.9V257.3M592.23 238.7V246.2M593.63 237.8V245.0M594.10 237.0V244.1M600.17 245.3V253.5M600.63 245.3V253.5M602.50 240.7V247.7M602.97 240.7V248.0M603.43 240.7V248.0M604.83 238.1V245.5M607.63 229.6V239.1M609.50 226.4V238.5M609.97 217.5V230.1M610.90 217.5V229.5M611.37 217.1V227.6M611.83 210.0V223.2M612.30 211.9V219.0M613.70 209.7V216.7M616.03 211.6V220.9M616.50 216.0V228.0M617.90 221.5V241.5M618.37 220.5V236.8M618.83 226.0V237.4M619.30 220.5V239.1M619.77 225.6V236.8M620.23 222.7V232.1M620.70 222.4V230.6M621.17 222.0V244.5M621.63 240.0V262.5M622.10 240.5V261.7M622.57 251.7V264.3M623.03 255.0V267.6M623.50 256.2V279.0M624.43 249.0V258.0M625.37 249.0V257.3M625.83 244.9V258.0M626.30 228.0V243.0M626.77 228.4V237.8M627.23 230.3V243.0M627.70 225.0V239.8M628.17 229.1V237.0M628.63 229.3V237.0M629.10 229.5V237.0M629.57 230.0V238.1M630.03 228.6V239.3M630.50 228.0V238.1M630.97 232.9V240.0M631.43 231.2V239.3M631.90 231.1V240.0M632.37 230.3V240.9M632.83 226.4V241.5M633.30 225.5V233.0M633.77 225.0V236.5M634.23 219.9V234.7M634.70 213.0V228.8M635.17 214.5V228.0M635.63 213.0V220.6M636.10 209.9V218.7M637.03 204.5V214.5M637.50 203.6V210.8M637.97 198.7V208.5M638.43 195.2V205.7M638.90 195.2V204.5M639.83 195.2V205.6M640.77 200.0V211.5M641.23 201.0V209.2M641.70 201.0V209.6M642.17 203.3V211.5M643.57 201.8V210.5M644.03 202.1V210.0M645.43 202.2V210.3M646.83 200.6V213.8M647.30 200.1V213.7M648.23 205.0V213.7M648.70 199.8V213.8M649.17 201.2V210.2M649.63 191.7V205.6M650.10 192.1V200.0M650.57 192.2V201.0M651.03 191.7V200.6M652.43 186.8V194.0M652.90 171.8V183.5M653.37 168.6V176.9M653.83 161.9V173.0M654.30 161.3V169.6M654.77 154.5V162.0M655.23 149.7V159.0M655.70 150.1V159.0M656.63 156.4V168.3M657.10 160.8V167.8M657.57 156.7V165.6M658.50 153.2V166.0M658.97 152.3V164.5M659.43 149.6V161.9M660.37 144.0V152.1M660.83 135.6V145.5M661.77 127.8V139.5M662.70 114.8V126.5M663.63 110.9V119.9M664.57 105.5V118.3M665.03 105.0V118.3M665.97 101.9V111.3M666.43 100.9V110.7M666.90 96.8V111.3M667.37 103.1V114.9M667.83 107.3V116.0M668.30 105.5V126.5M668.77 110.7V126.1M669.23 115.5V131.4M669.70 117.2V132.0M670.17 119.3V132.3M670.63 119.8V132.4M671.10 127.6V140.5M671.57 123.8V134.9M672.03 123.0V138.7M672.50 128.4V147.5M672.97 132.3V145.3M673.43 137.5V147.4M673.90 132.3V144.0M674.37 118.3V134.9M674.83 120.9V130.0M675.77 117.3V125.3M676.70 111.3V120.7M677.17 111.3V120.7M677.63 108.8V119.9M678.57 106.0V113.0M679.03 103.2V118.3M679.50 110.3V119.4M679.97 109.4V118.9M680.43 113.7V126.5M680.90 114.4V126.5M681.83 119.0V127.6M682.30 123.0V134.7M682.77 123.0V132.7M684.63 127.7V138.2M685.10 131.0V145.0M685.57 138.5V148.7M686.03 134.7V153.3M686.97 148.7V157.0M687.43 151.1V162.4M687.90 159.3V171.5M688.37 159.3V173.3M688.83 164.5V173.6M689.30 173.3V189.7M689.77 174.7V189.7M690.23 173.3V184.7M690.70 184.4V199.0M691.17 185.6V198.0M691.63 189.6V204.4M692.57 198.0V208.0M693.03 199.0V217.5M693.50 202.0V210.8M693.97 203.7V211.9M694.43 203.3V210.9M695.37 201.5V214.5M695.83 200.0V210.0M696.30 200.4V210.0M696.77 183.0V210.0M697.23 183.0V210.0M697.70 187.6V208.5M698.17 190.5V199.9M698.63 190.5V207.0M699.10 200.8V217.0M699.57 201.6V243.2M700.03 217.2V243.9M700.50 215.9V264.0M700.97 213.7V253.2M701.43 207.0V250.1M701.90 216.2V229.8M702.37 219.3V236.8M702.83 217.5V238.5M703.30 217.5V247.5M703.77 225.0V253.2M704.23 240.9V255.0M704.70 225.0V252.8M705.17 224.1V232.6M705.63 213.0V225.0M706.10 205.5V221.7M706.57 208.8V221.6M707.03 208.8V225.0M707.50 210.8V221.9" fill="none" stroke="#000" stroke-width="0.85"/><path d="M84.05 373.6h0.45M84.50 373.6h0.45M84.52 373.6h0.45M84.97 373.1h0.45M84.98 373.1h0.45M85.43 374.2h0.45M85.45 374.2h0.45M85.90 372.0h0.45M85.92 372.0h0.45M86.37 373.1h0.45M86.38 373.1h0.45M86.83 372.5h0.45M86.85 372.5h0.45M87.30 371.9h0.45M87.32 371.9h0.45M87.77 372.7h0.45M87.78 372.7h0.45M88.23 371.8h0.45M88.25 371.8h0.45M88.70 372.4h0.45M88.72 372.4h0.45M89.17 371.8h0.45M89.18 371.8h0.45M89.63 371.3h0.45M89.65 371.3h0.45M90.10 370.7h0.45M90.12 370.7h0.45M90.57 370.9h0.45M90.58 370.9h0.45M91.03 369.6h0.45M91.05 369.6h0.45M91.50 371.0h0.45M91.52 371.0h0.45M91.97 372.4h0.45M91.98 372.4h0.45M92.43 376.8h0.45M92.45 376.8h0.45M92.90 377.4h0.45M92.92 377.4h0.45M93.37 375.2h0.45M93.38 375.2h0.45M93.83 376.2h0.45M93.85 376.2h0.45M94.30 371.2h0.45M94.32 371.2h0.45M94.77 371.1h0.45M94.78 371.1h0.45M95.23 369.4h0.45M95.25 369.4h0.45M95.70 366.2h0.45M95.72 366.2h0.45M96.17 365.8h0.45M96.18 365.8h0.45M96.63 365.9h0.45M96.65 365.9h0.45M97.10 366.5h0.45M97.12 366.5h0.45M97.57 362.5h0.45M97.58 362.5h0.45M98.03 361.7h0.45M98.05 361.7h0.45M98.50 360.6h0.45M98.52 360.6h0.45M98.97 358.6h0.45M98.98 358.6h0.45M99.43 359.0h0.45M99.45 359.0h0.45M99.90 357.1h0.45M99.92 357.1h0.45M100.37 357.1h0.45M100.38 357.1h0.45M100.83 358.9h0.45M100.85 358.9h0.45M101.30 361.6h0.45M101.32 361.6h0.45M101.77 362.1h0.45M101.78 362.1h0.45M102.23 367.7h0.45M102.25 367.7h0.45M102.70 371.5h0.45M102.72 371.5h0.45M103.17 380.3h0.45M103.18 380.3h0.45M103.63 383.4h0.45M103.65 383.4h0.45M104.10 387.4h0.45M104.12 387.4h0.45M104.57 391.8h0.45M104.58 391.8h0.45M105.03 387.8h0.45M105.05 387.8h0.45M105.50 395.7h0.45M105.52 395.7h0.45M105.97 396.2h0.45M105.98 396.2h0.45M106.43 409.3h0.45M106.45 409.3h0.45M106.90 410.1h0.45M106.92 410.1h0.45M107.37 416.3h0.45M107.38 416.3h0.45M107.83 424.4h0.45M107.85 424.4h0.45M108.30 429.2h0.45M108.32 429.2h0.45M108.77 434.2h0.45M108.78 434.2h0.45M109.23 451.2h0.45M109.25 451.2h0.45M109.70 449.6h0.45M109.72 449.6h0.45M110.17 455.7h0.45M110.18 455.7h0.45M110.63 443.6h0.45M110.65 443.6h0.45M111.10 445.6h0.45M111.12 445.6h0.45M111.57 444.1h0.45M111.58 444.1h0.45M112.03 441.8h0.45M112.05 441.8h0.45M112.50 439.6h0.45M112.52 439.6h0.45M112.97 428.6h0.45M112.98 428.6h0.45M113.43 433.1h0.45M113.45 433.1h0.45M113.90 433.3h0.45M113.92 433.3h0.45M114.37 435.6h0.45M114.38 435.6h0.45M114.83 434.4h0.45M114.85 434.4h0.45M115.30 439.8h0.45M115.32 439.8h0.45M115.77 431.8h0.45M115.78 431.8h0.45M116.23 419.0h0.45M116.25 419.0h0.45M116.70 420.2h0.45M116.72 420.2h0.45M117.17 414.2h0.45M117.18 414.2h0.45M117.63 413.0h0.45M117.65 413.0h0.45M118.10 412.8h0.45M118.12 412.8h0.45M118.57 407.4h0.45M118.58 407.4h0.45M119.03 404.0h0.45M119.05 404.0h0.45M119.50 400.4h0.45M119.52 400.4h0.45M119.97 398.0h0.45M119.98 398.0h0.45M120.43 396.8h0.45M120.45 396.8h0.45M120.90 393.8h0.45M120.92 393.8h0.45M121.37 395.8h0.45M121.38 395.8h0.45M121.83 391.6h0.45M121.85 391.6h0.45M122.30 388.1h0.45M122.32 388.1h0.45M122.77 385.1h0.45M122.78 385.1h0.45M123.23 392.2h0.45M123.25 392.2h0.45M123.70 385.8h0.45M123.72 385.8h0.45M124.17 389.0h0.45M124.18 389.0h0.45M124.63 392.0h0.45M124.65 392.0h0.45M125.10 394.7h0.45M125.12 394.7h0.45M125.57 391.1h0.45M125.58 391.1h0.45M126.03 391.5h0.45M126.05 391.5h0.45M126.50 390.6h0.45M126.52 390.6h0.45M126.97 393.5h0.45M126.98 393.5h0.45M127.43 392.4h0.45M127.45 392.4h0.45M127.90 388.7h0.45M127.92 388.7h0.45M128.37 384.0h0.45M128.38 384.0h0.45M128.83 383.6h0.45M128.85 383.6h0.45M129.30 378.6h0.45M129.32 378.6h0.45M129.77 380.1h0.45M129.78 380.1h0.45M130.23 377.3h0.45M130.25 377.3h0.45M130.70 374.2h0.45M130.72 374.2h0.45M131.17 372.4h0.45M131.18 372.4h0.45M131.63 369.8h0.45M131.65 369.8h0.45M132.10 369.8h0.45M132.12 369.8h0.45M132.57 370.3h0.45M132.58 370.3h0.45M133.03 368.7h0.45M133.05 368.7h0.45M133.50 365.9h0.45M133.52 365.9h0.45M133.97 364.7h0.45M133.98 364.7h0.45M134.43 363.5h0.45M134.45 363.5h0.45M134.90 361.2h0.45M134.92 361.2h0.45M135.37 360.8h0.45M135.38 360.8h0.45M135.83 358.0h0.45M135.85 358.0h0.45M136.30 356.2h0.45M136.32 356.2h0.45M136.77 358.0h0.45M136.78 358.0h0.45M137.23 365.2h0.45M137.25 365.2h0.45M137.70 367.5h0.45M137.72 367.5h0.45M138.17 360.4h0.45M138.18 360.4h0.45M138.63 366.7h0.45M138.65 366.7h0.45M139.10 361.4h0.45M139.12 361.4h0.45M139.57 360.1h0.45M139.58 360.1h0.45M140.03 359.5h0.45M140.05 359.5h0.45M140.50 356.9h0.45M140.52 356.9h0.45M140.97 358.4h0.45M140.98 358.4h0.45M141.43 357.1h0.45M141.45 357.1h0.45M141.90 362.8h0.45M141.92 362.8h0.45M142.37 357.2h0.45M142.38 357.2h0.45M142.83 357.2h0.45M142.85 357.2h0.45M143.30 352.9h0.45M143.32 352.9h0.45M143.77 346.6h0.45M143.78 346.6h0.45M144.23 344.2h0.45M144.25 344.2h0.45M144.70 342.2h0.45M144.72 342.2h0.45M145.17 341.8h0.45M145.18 341.8h0.45M145.63 341.0h0.45M145.65 341.0h0.45M146.10 338.4h0.45M146.12 338.4h0.45M146.57 339.0h0.45M146.58 339.0h0.45M147.03 336.3h0.45M147.05 336.3h0.45M147.50 343.0h0.45M147.52 343.0h0.45M147.97 338.7h0.45M147.98 338.7h0.45M148.43 332.2h0.45M148.45 332.2h0.45M148.90 331.1h0.45M148.92 331.1h0.45M149.37 331.8h0.45M149.38 331.8h0.45M149.83 332.0h0.45M149.85 332.0h0.45M150.30 331.1h0.45M150.32 331.1h0.45M150.77 337.8h0.45M150.78 337.8h0.45M151.23 339.5h0.45M151.25 339.5h0.45M151.70 335.8h0.45M151.72 335.8h0.45M152.17 335.9h0.45M152.18 335.9h0.45M152.63 330.6h0.45M152.65 330.6h0.45M153.10 327.8h0.45M153.12 327.8h0.45M153.57 327.4h0.45M153.58 327.4h0.45M154.03 326.9h0.45M154.05 326.9h0.45M154.50 330.4h0.45M154.52 330.4h0.45M154.97 324.9h0.45M154.98 324.9h0.45M155.43 321.2h0.45M155.45 321.2h0.45M155.90 325.4h0.45M155.92 325.4h0.45M156.37 320.5h0.45M156.38 320.5h0.45M156.83 317.4h0.45M156.85 317.4h0.45M157.30 320.6h0.45M157.32 320.6h0.45M157.77 316.1h0.45M157.78 316.1h0.45M158.23 317.7h0.45M158.25 317.7h0.45M158.70 318.5h0.45M158.72 318.5h0.45M159.17 315.4h0.45M159.18 315.4h0.45M159.63 314.4h0.45M159.65 314.4h0.45M160.10 311.6h0.45M160.12 311.6h0.45M160.57 310.4h0.45M160.58 310.4h0.45M161.03 304.6h0.45M161.05 304.6h0.45M161.50 306.0h0.45M161.52 306.0h0.45M161.97 304.1h0.45M161.98 304.1h0.45M162.43 305.2h0.45M162.45 305.2h0.45M162.90 297.3h0.45M162.92 297.3h0.45M163.37 293.5h0.45M163.38 293.5h0.45M163.83 298.2h0.45M163.85 298.2h0.45M164.30 306.7h0.45M164.32 306.7h0.45M164.77 315.6h0.45M164.78 315.6h0.45M165.23 315.0h0.45M165.25 315.0h0.45M165.70 315.0h0.45M165.72 315.0h0.45M166.17 313.7h0.45M166.18 313.7h0.45M166.63 309.1h0.45M166.65 309.1h0.45M167.10 311.7h0.45M167.12 311.7h0.45M167.57 312.6h0.45M167.58 312.6h0.45M168.03 314.1h0.45M168.05 314.1h0.45M168.50 317.6h0.45M168.52 317.6h0.45M168.97 321.2h0.45M168.98 321.2h0.45M169.43 320.9h0.45M169.45 320.9h0.45M169.90 325.1h0.45M169.92 325.1h0.45M170.37 325.5h0.45M170.38 325.5h0.45M170.83 320.9h0.45M170.85 320.9h0.45M171.30 324.9h0.45M171.32 324.9h0.45M171.77 323.1h0.45M171.78 323.1h0.45M172.23 318.6h0.45M172.25 318.6h0.45M172.70 310.5h0.45M172.72 310.5h0.45M173.17 309.4h0.45M173.18 309.4h0.45M173.63 309.5h0.45M173.65 309.5h0.45M174.10 306.4h0.45M174.12 306.4h0.45M174.57 302.5h0.45M174.58 302.5h0.45M175.03 304.3h0.45M175.05 304.3h0.45M175.50 306.7h0.45M175.52 306.7h0.45M175.97 303.3h0.45M175.98 303.3h0.45M176.43 294.6h0.45M176.45 294.6h0.45M176.90 293.7h0.45M176.92 293.7h0.45M177.37 294.8h0.45M177.38 294.8h0.45M177.83 290.7h0.45M177.85 290.7h0.45M178.30 298.0h0.45M178.32 298.0h0.45M178.77 302.1h0.45M178.78 302.1h0.45M179.23 300.8h0.45M179.25 300.8h0.45M179.70 301.0h0.45M179.72 301.0h0.45M180.17 301.3h0.45M180.18 301.3h0.45M180.63 302.0h0.45M180.65 302.0h0.45M181.10 306.4h0.45M181.12 306.4h0.45M181.57 303.8h0.45M181.58 303.8h0.45M182.03 312.7h0.45M182.05 312.7h0.45M182.50 316.7h0.45M182.52 316.7h0.45M182.97 312.1h0.45M182.98 312.1h0.45M183.43 318.1h0.45M183.45 318.1h0.45M183.90 323.8h0.45M183.92 323.8h0.45M184.37 319.6h0.45M184.38 319.6h0.45M184.83 302.0h0.45M184.85 302.0h0.45M185.30 297.1h0.45M185.32 297.1h0.45M185.77 297.5h0.45M185.78 297.5h0.45M186.23 307.2h0.45M186.25 307.2h0.45M186.70 307.1h0.45M186.72 307.1h0.45M187.17 301.2h0.45M187.18 301.2h0.45M187.63 306.5h0.45M187.65 306.5h0.45M188.10 305.3h0.45M188.12 305.3h0.45M188.57 301.6h0.45M188.58 301.6h0.45M189.03 300.0h0.45M189.05 300.0h0.45M189.50 301.1h0.45M189.52 301.1h0.45M189.97 297.4h0.45M189.98 297.4h0.45M190.43 294.9h0.45M190.45 294.9h0.45M190.90 298.7h0.45M190.92 298.7h0.45M191.37 297.0h0.45M191.38 297.0h0.45M191.83 296.3h0.45M191.85 296.3h0.45M192.30 297.7h0.45M192.32 297.7h0.45M192.77 294.1h0.45M192.78 294.1h0.45M193.23 295.8h0.45M193.25 295.8h0.45M193.70 295.5h0.45M193.72 295.5h0.45M194.17 292.3h0.45M194.18 292.3h0.45M194.63 293.3h0.45M194.65 293.3h0.45M195.10 294.5h0.45M195.12 294.5h0.45M195.57 294.9h0.45M195.58 294.9h0.45M196.03 296.8h0.45M196.05 296.8h0.45M196.50 295.0h0.45M196.52 295.0h0.45M196.97 294.3h0.45M196.98 294.3h0.45M197.43 290.9h0.45M197.45 290.9h0.45M197.90 293.7h0.45M197.92 293.7h0.45M198.37 290.7h0.45M198.38 290.7h0.45M198.83 291.3h0.45M198.85 291.3h0.45M199.30 291.5h0.45M199.32 291.5h0.45M199.77 292.8h0.45M199.78 292.8h0.45M200.23 288.6h0.45M200.25 288.6h0.45M200.70 291.9h0.45M200.72 291.9h0.45M201.17 288.6h0.45M201.18 288.6h0.45M201.63 288.8h0.45M201.65 288.8h0.45M202.10 288.3h0.45M202.12 288.3h0.45M202.57 283.9h0.45M202.58 283.9h0.45M203.03 285.8h0.45M203.05 285.8h0.45M203.50 284.0h0.45M203.52 284.0h0.45M203.97 283.1h0.45M203.98 283.1h0.45M204.43 286.2h0.45M204.45 286.2h0.45M204.90 277.4h0.45M204.92 277.4h0.45M205.37 275.6h0.45M205.38 275.6h0.45M205.83 277.1h0.45M205.85 277.1h0.45M206.30 275.5h0.45M206.32 275.5h0.45M206.77 272.1h0.45M206.78 272.1h0.45M207.23 271.8h0.45M207.25 271.8h0.45M207.70 272.0h0.45M207.72 272.0h0.45M208.17 273.6h0.45M208.18 273.6h0.45M208.63 266.7h0.45M208.65 266.7h0.45M209.10 267.8h0.45M209.12 267.8h0.45M209.57 265.2h0.45M209.58 265.2h0.45M210.03 265.4h0.45M210.05 265.4h0.45M210.50 274.5h0.45M210.52 274.5h0.45M210.97 278.7h0.45M210.98 278.7h0.45M211.43 280.0h0.45M211.45 280.0h0.45M211.90 279.5h0.45M211.92 279.5h0.45M212.37 270.6h0.45M212.38 270.6h0.45M212.83 266.1h0.45M212.85 266.1h0.45M213.30 265.8h0.45M213.32 265.8h0.45M213.77 263.4h0.45M213.78 263.4h0.45M214.23 263.5h0.45M214.25 263.5h0.45M214.70 265.1h0.45M214.72 265.1h0.45M215.17 264.9h0.45M215.18 264.9h0.45M215.63 266.5h0.45M215.65 266.5h0.45M216.10 266.2h0.45M216.12 266.2h0.45M216.57 268.6h0.45M216.58 268.6h0.45M217.03 268.4h0.45M217.05 268.4h0.45M217.50 271.8h0.45M217.52 271.8h0.45M217.97 274.7h0.45M217.98 274.7h0.45M218.43 270.5h0.45M218.45 270.5h0.45M218.90 272.6h0.45M218.92 272.6h0.45M219.37 279.0h0.45M219.38 279.0h0.45M219.83 285.3h0.45M219.85 285.3h0.45M220.30 279.4h0.45M220.32 279.4h0.45M220.77 279.2h0.45M220.78 279.2h0.45M221.23 286.0h0.45M221.25 286.0h0.45M221.70 282.5h0.45M221.72 282.5h0.45M222.17 285.1h0.45M222.18 285.1h0.45M222.63 296.8h0.45M222.65 296.8h0.45M223.10 307.3h0.45M223.12 307.3h0.45M223.57 304.9h0.45M223.58 304.9h0.45M224.03 291.9h0.45M224.05 291.9h0.45M224.50 278.7h0.45M224.52 278.7h0.45M224.97 282.2h0.45M224.98 282.2h0.45M225.43 281.0h0.45M225.45 281.0h0.45M225.90 274.8h0.45M225.92 274.8h0.45M226.37 277.1h0.45M226.38 277.1h0.45M226.83 277.7h0.45M226.85 277.7h0.45M227.30 272.4h0.45M227.32 272.4h0.45M227.77 280.2h0.45M227.78 280.2h0.45M228.23 278.1h0.45M228.25 278.1h0.45M228.70 280.2h0.45M228.72 280.2h0.45M229.17 285.5h0.45M229.18 285.5h0.45M229.63 283.0h0.45M229.65 283.0h0.45M230.10 274.1h0.45M230.12 274.1h0.45M230.57 273.6h0.45M230.58 273.6h0.45M231.03 273.4h0.45M231.05 273.4h0.45M231.50 272.4h0.45M231.52 272.4h0.45M231.97 269.2h0.45M231.98 269.2h0.45M232.43 264.2h0.45M232.45 264.2h0.45M232.90 262.5h0.45M232.92 262.5h0.45M233.37 258.1h0.45M233.38 258.1h0.45M233.83 261.3h0.45M233.85 261.3h0.45M234.30 256.2h0.45M234.32 256.2h0.45M234.77 247.9h0.45M234.78 247.9h0.45M235.23 250.1h0.45M235.25 250.1h0.45M235.70 252.9h0.45M235.72 252.9h0.45M236.17 252.8h0.45M236.18 252.8h0.45M236.63 250.9h0.45M236.65 250.9h0.45M237.10 257.4h0.45M237.12 257.4h0.45M237.57 256.1h0.45M237.58 256.1h0.45M238.03 257.2h0.45M238.05 257.2h0.45M238.50 250.2h0.45M238.52 250.2h0.45M238.97 250.1h0.45M238.98 250.1h0.45M239.43 247.1h0.45M239.45 247.1h0.45M239.90 253.0h0.45M239.92 253.0h0.45M240.37 248.9h0.45M240.38 248.9h0.45M240.83 247.8h0.45M240.85 247.8h0.45M241.30 251.6h0.45M241.32 251.6h0.45M241.77 257.2h0.45M241.78 257.2h0.45M242.23 258.3h0.45M242.25 258.3h0.45M242.70 255.2h0.45M242.72 255.2h0.45M243.17 254.3h0.45M243.18 254.3h0.45M243.63 260.2h0.45M243.65 260.2h0.45M244.10 265.1h0.45M244.12 265.1h0.45M244.57 272.4h0.45M244.58 272.4h0.45M245.03 265.0h0.45M245.05 265.0h0.45M245.50 266.5h0.45M245.52 266.5h0.45M245.97 273.7h0.45M245.98 273.7h0.45M246.43 271.2h0.45M246.45 271.2h0.45M246.90 266.9h0.45M246.92 266.9h0.45M247.37 270.8h0.45M247.38 270.8h0.45M247.83 268.5h0.45M247.85 268.5h0.45M248.30 269.4h0.45M248.32 269.4h0.45M248.77 264.4h0.45M248.78 264.4h0.45M249.23 266.3h0.45M249.25 266.3h0.45M249.70 261.8h0.45M249.72 261.8h0.45M250.17 265.4h0.45M250.18 265.4h0.45M250.63 264.5h0.45M250.65 264.5h0.45M251.10 265.7h0.45M251.12 265.7h0.45M251.57 267.6h0.45M251.58 267.6h0.45M252.03 269.9h0.45M252.05 269.9h0.45M252.50 265.1h0.45M252.52 265.1h0.45M252.97 262.7h0.45M252.98 262.7h0.45M253.43 262.8h0.45M253.45 262.8h0.45M253.90 261.4h0.45M253.92 261.4h0.45M254.37 260.9h0.45M254.38 260.9h0.45M254.83 260.7h0.45M254.85 260.7h0.45M255.30 258.5h0.45M255.32 258.5h0.45M255.77 257.7h0.45M255.78 257.7h0.45M256.23 257.5h0.45M256.25 257.5h0.45M256.70 257.5h0.45M256.72 257.5h0.45M257.17 259.9h0.45M257.18 259.9h0.45M257.63 254.8h0.45M257.65 254.8h0.45M258.10 252.9h0.45M258.12 252.9h0.45M258.57 248.9h0.45M258.58 248.9h0.45M259.03 249.9h0.45M259.05 249.9h0.45M259.50 247.9h0.45M259.52 247.9h0.45M259.97 246.6h0.45M259.98 246.6h0.45M260.43 241.4h0.45M260.45 241.4h0.45M260.90 244.6h0.45M260.92 244.6h0.45M261.37 243.2h0.45M261.38 243.2h0.45M261.83 240.3h0.45M261.85 240.3h0.45M262.30 241.0h0.45M262.32 241.0h0.45M262.77 242.8h0.45M262.78 242.8h0.45M263.23 234.9h0.45M263.25 234.9h0.45M263.70 240.6h0.45M263.72 240.6h0.45M264.17 237.5h0.45M264.18 237.5h0.45M264.63 241.8h0.45M264.65 241.8h0.45M265.10 250.4h0.45M265.12 250.4h0.45M265.57 244.6h0.45M265.58 244.6h0.45M266.03 246.4h0.45M266.05 246.4h0.45M266.50 244.7h0.45M266.52 244.7h0.45M266.97 240.8h0.45M266.98 240.8h0.45M267.43 236.7h0.45M267.45 236.7h0.45M267.90 239.3h0.45M267.92 239.3h0.45M268.37 238.6h0.45M268.38 238.6h0.45M268.83 238.0h0.45M268.85 238.0h0.45M269.30 236.2h0.45M269.32 236.2h0.45M269.77 235.7h0.45M269.78 235.7h0.45M270.23 235.9h0.45M270.25 235.9h0.45M270.70 239.5h0.45M270.72 239.5h0.45M271.17 242.4h0.45M271.18 242.4h0.45M271.63 245.2h0.45M271.65 245.2h0.45M272.10 243.2h0.45M272.12 243.2h0.45M272.57 243.0h0.45M272.58 243.0h0.45M273.03 243.2h0.45M273.05 243.2h0.45M273.50 246.6h0.45M273.52 246.6h0.45M273.97 247.0h0.45M273.98 247.0h0.45M274.43 246.3h0.45M274.45 246.3h0.45M274.90 244.9h0.45M274.92 244.9h0.45M275.37 247.5h0.45M275.38 247.5h0.45M275.83 250.3h0.45M275.85 250.3h0.45M276.30 251.9h0.45M276.32 251.9h0.45M276.77 248.6h0.45M276.78 248.6h0.45M277.23 248.8h0.45M277.25 248.8h0.45M277.70 245.0h0.45M277.72 245.0h0.45M278.17 249.1h0.45M278.18 249.1h0.45M278.63 249.2h0.45M278.65 249.2h0.45M279.10 245.5h0.45M279.12 245.5h0.45M279.57 241.1h0.45M279.58 241.1h0.45M280.03 243.0h0.45M280.05 243.0h0.45M280.50 238.1h0.45M280.52 238.1h0.45M280.97 238.4h0.45M280.98 238.4h0.45M281.43 236.2h0.45M281.45 236.2h0.45M281.90 238.5h0.45M281.92 238.5h0.45M282.37 238.9h0.45M282.38 238.9h0.45M282.83 239.0h0.45M282.85 239.0h0.45M283.30 237.0h0.45M283.32 237.0h0.45M283.77 239.0h0.45M283.78 239.0h0.45M284.23 235.7h0.45M284.25 235.7h0.45M284.70 237.7h0.45M284.72 237.7h0.45M285.17 237.4h0.45M285.18 237.4h0.45M285.63 241.7h0.45M285.65 241.7h0.45M286.10 238.6h0.45M286.12 238.6h0.45M286.57 238.4h0.45M286.58 238.4h0.45M287.03 241.7h0.45M287.05 241.7h0.45M287.50 240.3h0.45M287.52 240.3h0.45M287.97 242.2h0.45M287.98 242.2h0.45M288.43 239.8h0.45M288.45 239.8h0.45M288.90 241.1h0.45M288.92 241.1h0.45M289.37 240.4h0.45M289.38 240.4h0.45M289.83 241.6h0.45M289.85 241.6h0.45M290.30 245.7h0.45M290.32 245.7h0.45M290.77 244.0h0.45M290.78 244.0h0.45M291.23 244.0h0.45M291.25 244.0h0.45M291.70 250.3h0.45M291.72 250.3h0.45M292.17 241.6h0.45M292.18 241.6h0.45M292.63 242.7h0.45M292.65 242.7h0.45M293.10 237.6h0.45M293.12 237.6h0.45M293.57 230.2h0.45M293.58 230.2h0.45M294.03 237.9h0.45M294.05 237.9h0.45M294.50 237.8h0.45M294.52 237.8h0.45M294.97 230.5h0.45M294.98 230.5h0.45M295.43 226.6h0.45M295.45 226.6h0.45M295.90 225.4h0.45M295.92 225.4h0.45M296.37 219.7h0.45M296.38 219.7h0.45M296.83 222.6h0.45M296.85 222.6h0.45M297.30 217.5h0.45M297.32 217.5h0.45M297.77 216.0h0.45M297.78 216.0h0.45M298.23 213.4h0.45M298.25 213.4h0.45M298.70 213.6h0.45M298.72 213.6h0.45M299.17 211.0h0.45M299.18 211.0h0.45M299.63 209.2h0.45M299.65 209.2h0.45M300.10 201.4h0.45M300.12 201.4h0.45M300.57 198.0h0.45M300.58 198.0h0.45M301.03 192.9h0.45M301.05 192.9h0.45M301.50 190.6h0.45M301.52 190.6h0.45M301.97 187.2h0.45M301.98 187.2h0.45M302.43 185.1h0.45M302.45 185.1h0.45M302.90 182.1h0.45M302.92 182.1h0.45M303.37 190.3h0.45M303.38 190.3h0.45M303.83 192.5h0.45M303.85 192.5h0.45M304.30 196.3h0.45M304.32 196.3h0.45M304.77 196.3h0.45M304.78 196.3h0.45M305.23 192.6h0.45M305.25 192.6h0.45M305.70 184.7h0.45M305.72 184.7h0.45M306.17 179.5h0.45M306.18 179.5h0.45M306.63 186.9h0.45M306.65 186.9h0.45M307.10 182.1h0.45M307.12 182.1h0.45M307.57 178.1h0.45M307.58 178.1h0.45M308.03 178.4h0.45M308.05 178.4h0.45M308.50 182.8h0.45M308.52 182.8h0.45M308.97 181.3h0.45M308.98 181.3h0.45M309.43 191.5h0.45M309.45 191.5h0.45M309.90 185.7h0.45M309.92 185.7h0.45M310.37 184.2h0.45M310.38 184.2h0.45M310.83 190.0h0.45M310.85 190.0h0.45M311.30 200.1h0.45M311.32 200.1h0.45M311.77 193.9h0.45M311.78 193.9h0.45M312.23 201.7h0.45M312.25 201.7h0.45M312.70 205.4h0.45M312.72 205.4h0.45M313.17 199.8h0.45M313.18 199.8h0.45M313.63 199.4h0.45M313.65 199.4h0.45M314.10 200.7h0.45M314.12 200.7h0.45M314.57 203.8h0.45M314.58 203.8h0.45M315.03 212.4h0.45M315.05 212.4h0.45M315.50 216.3h0.45M315.52 216.3h0.45M315.97 216.8h0.45M315.98 216.8h0.45M316.43 205.4h0.45M316.45 205.4h0.45M316.90 202.2h0.45M316.92 202.2h0.45M317.37 200.4h0.45M317.38 200.4h0.45M317.83 205.6h0.45M317.85 205.6h0.45M318.30 199.2h0.45M318.32 199.2h0.45M318.77 197.7h0.45M318.78 197.7h0.45M319.23 191.6h0.45M319.25 191.6h0.45M319.70 191.9h0.45M319.72 191.9h0.45M320.17 189.7h0.45M320.18 189.7h0.45M320.63 190.8h0.45M320.65 190.8h0.45M321.10 191.0h0.45M321.12 191.0h0.45M321.57 197.1h0.45M321.58 197.1h0.45M322.03 198.5h0.45M322.05 198.5h0.45M322.50 201.5h0.45M322.52 201.5h0.45M322.97 202.5h0.45M322.98 202.5h0.45M323.43 206.0h0.45M323.45 206.0h0.45M323.90 203.6h0.45M323.92 203.6h0.45M324.37 211.9h0.45M324.38 211.9h0.45M324.83 213.1h0.45M324.85 213.1h0.45M325.30 232.1h0.45M325.32 232.1h0.45M325.77 231.4h0.45M325.78 231.4h0.45M326.23 231.5h0.45M326.25 231.5h0.45M326.70 250.5h0.45M326.72 250.5h0.45M327.17 261.0h0.45M327.18 261.0h0.45M327.63 260.1h0.45M327.65 260.1h0.45M328.10 247.2h0.45M328.12 247.2h0.45M328.57 244.1h0.45M328.58 244.1h0.45M329.03 243.1h0.45M329.05 243.1h0.45M329.50 253.3h0.45M329.52 253.3h0.45M329.97 240.1h0.45M329.98 240.1h0.45M330.43 244.8h0.45M330.45 244.8h0.45M330.90 238.4h0.45M330.92 238.4h0.45M331.37 244.0h0.45M331.38 244.0h0.45M331.83 250.4h0.45M331.85 250.4h0.45M332.30 239.4h0.45M332.32 239.4h0.45M332.77 248.8h0.45M332.78 248.8h0.45M333.23 244.7h0.45M333.25 244.7h0.45M333.70 250.0h0.45M333.72 250.0h0.45M334.17 249.6h0.45M334.18 249.6h0.45M334.63 247.4h0.45M334.65 247.4h0.45M335.10 253.4h0.45M335.12 253.4h0.45M335.57 249.7h0.45M335.58 249.7h0.45M336.03 252.4h0.45M336.05 252.4h0.45M336.50 258.3h0.45M336.52 258.3h0.45M336.97 273.5h0.45M336.98 273.5h0.45M337.43 271.5h0.45M337.45 271.5h0.45M337.90 265.3h0.45M337.92 265.3h0.45M338.37 262.2h0.45M338.38 262.2h0.45M338.83 264.4h0.45M338.85 264.4h0.45M339.30 266.6h0.45M339.32 266.6h0.45M339.77 281.2h0.45M339.78 281.2h0.45M340.23 268.1h0.45M340.25 268.1h0.45M340.70 282.7h0.45M340.72 282.7h0.45M341.17 284.3h0.45M341.18 284.3h0.45M341.63 274.1h0.45M341.65 274.1h0.45M342.10 285.2h0.45M342.12 285.2h0.45M342.57 282.4h0.45M342.58 282.4h0.45M343.03 276.0h0.45M343.05 276.0h0.45M343.50 259.3h0.45M343.52 259.3h0.45M343.97 260.4h0.45M343.98 260.4h0.45M344.43 259.1h0.45M344.45 259.1h0.45M344.90 259.7h0.45M344.92 259.7h0.45M345.37 249.2h0.45M345.38 249.2h0.45M345.83 246.2h0.45M345.85 246.2h0.45M346.30 243.4h0.45M346.32 243.4h0.45M346.77 235.0h0.45M346.78 235.0h0.45M347.23 231.8h0.45M347.25 231.8h0.45M347.70 231.4h0.45M347.72 231.4h0.45M348.17 232.6h0.45M348.18 232.6h0.45M348.63 226.3h0.45M348.65 226.3h0.45M349.10 231.5h0.45M349.12 231.5h0.45M349.57 230.8h0.45M349.58 230.8h0.45M350.03 234.4h0.45M350.05 234.4h0.45M350.50 237.0h0.45M350.52 237.0h0.45M350.97 237.2h0.45M350.98 237.2h0.45M351.43 246.2h0.45M351.45 246.2h0.45M351.90 253.1h0.45M351.92 253.1h0.45M352.37 252.6h0.45M352.38 252.6h0.45M352.83 252.0h0.45M352.85 252.0h0.45M353.30 249.7h0.45M353.32 249.7h0.45M353.77 253.0h0.45M353.78 253.0h0.45M354.23 253.4h0.45M354.25 253.4h0.45M354.70 252.9h0.45M354.72 252.9h0.45M355.17 257.9h0.45M355.18 257.9h0.45M355.63 253.2h0.45M355.65 253.2h0.45M356.10 260.7h0.45M356.12 260.7h0.45M356.57 264.8h0.45M356.58 264.8h0.45M357.03 268.7h0.45M357.05 268.7h0.45M357.50 271.5h0.45M357.52 271.5h0.45M357.97 275.8h0.45M357.98 275.8h0.45M358.43 273.5h0.45M358.45 273.5h0.45M358.90 292.6h0.45M358.92 292.6h0.45M359.37 283.3h0.45M359.38 283.3h0.45M359.83 293.3h0.45M359.85 293.3h0.45M360.30 303.9h0.45M360.32 303.9h0.45M360.77 304.0h0.45M360.78 304.0h0.45M361.23 315.0h0.45M361.25 315.0h0.45M361.70 327.6h0.45M361.72 327.6h0.45M362.17 318.1h0.45M362.18 318.1h0.45M362.63 328.1h0.45M362.65 328.1h0.45M363.10 325.0h0.45M363.12 325.0h0.45M363.57 330.0h0.45M363.58 330.0h0.45M364.03 332.1h0.45M364.05 332.1h0.45M364.50 333.9h0.45M364.52 333.9h0.45M364.97 333.9h0.45M364.98 333.9h0.45M365.43 334.8h0.45M365.45 334.8h0.45M365.90 342.7h0.45M365.92 342.7h0.45M366.37 330.8h0.45M366.38 330.8h0.45M366.83 326.0h0.45M366.85 326.0h0.45M367.30 335.7h0.45M367.32 335.7h0.45M367.77 329.4h0.45M367.78 329.4h0.45M368.23 312.4h0.45M368.25 312.4h0.45M368.70 307.4h0.45M368.72 307.4h0.45M369.17 308.3h0.45M369.18 308.3h0.45M369.63 309.5h0.45M369.65 309.5h0.45M370.10 314.3h0.45M370.12 314.3h0.45M370.57 311.6h0.45M370.58 311.6h0.45M371.03 318.4h0.45M371.05 318.4h0.45M371.50 329.4h0.45M371.52 329.4h0.45M371.97 332.2h0.45M371.98 332.2h0.45M372.43 338.5h0.45M372.45 338.5h0.45M372.90 349.5h0.45M372.92 349.5h0.45M373.37 347.3h0.45M373.38 347.3h0.45M373.83 347.3h0.45M373.85 347.3h0.45M374.30 346.0h0.45M374.32 346.0h0.45M374.77 340.4h0.45M374.78 340.4h0.45M375.23 339.7h0.45M375.25 339.7h0.45M375.70 333.7h0.45M375.72 333.7h0.45M376.17 335.1h0.45M376.18 335.1h0.45M376.63 346.3h0.45M376.65 346.3h0.45M377.10 330.6h0.45M377.12 330.6h0.45M377.57 337.1h0.45M377.58 337.1h0.45M378.03 337.2h0.45M378.05 337.2h0.45M378.50 337.6h0.45M378.52 337.6h0.45M378.97 331.3h0.45M378.98 331.3h0.45M379.43 331.9h0.45M379.45 331.9h0.45M379.90 331.8h0.45M379.92 331.8h0.45M380.37 334.3h0.45M380.38 334.3h0.45M380.83 335.5h0.45M380.85 335.5h0.45M381.30 344.1h0.45M381.32 344.1h0.45M381.77 342.2h0.45M381.78 342.2h0.45M382.23 335.3h0.45M382.25 335.3h0.45M382.70 317.9h0.45M382.72 317.9h0.45M383.17 317.0h0.45M383.18 317.0h0.45M383.63 324.8h0.45M383.65 324.8h0.45M384.10 323.9h0.45M384.12 323.9h0.45M384.57 314.4h0.45M384.58 314.4h0.45M385.03 316.2h0.45M385.05 316.2h0.45M385.50 299.6h0.45M385.52 299.6h0.45M385.97 302.8h0.45M385.98 302.8h0.45M386.43 310.1h0.45M386.45 310.1h0.45M386.90 297.8h0.45M386.92 297.8h0.45M387.37 291.4h0.45M387.38 291.4h0.45M387.83 292.2h0.45M387.85 292.2h0.45M388.30 286.4h0.45M388.32 286.4h0.45M388.77 282.3h0.45M388.78 282.3h0.45M389.23 279.6h0.45M389.25 279.6h0.45M389.70 282.0h0.45M389.72 282.0h0.45M390.17 283.5h0.45M390.18 283.5h0.45M390.63 284.0h0.45M390.65 284.0h0.45M391.10 277.5h0.45M391.12 277.5h0.45M391.57 273.3h0.45M391.58 273.3h0.45M392.03 274.5h0.45M392.05 274.5h0.45M392.50 272.3h0.45M392.52 272.3h0.45M392.97 275.5h0.45M392.98 275.5h0.45M393.43 271.9h0.45M393.45 271.9h0.45M393.90 278.5h0.45M393.92 278.5h0.45M394.37 278.7h0.45M394.38 278.7h0.45M394.83 291.0h0.45M394.85 291.0h0.45M395.30 288.9h0.45M395.32 288.9h0.45M395.77 285.9h0.45M395.78 285.9h0.45M396.23 289.1h0.45M396.25 289.1h0.45M396.70 296.7h0.45M396.72 296.7h0.45M397.17 306.2h0.45M397.18 306.2h0.45M397.63 307.2h0.45M397.65 307.2h0.45M398.10 296.9h0.45M398.12 296.9h0.45M398.57 293.9h0.45M398.58 293.9h0.45M399.03 297.8h0.45M399.05 297.8h0.45M399.50 298.4h0.45M399.52 298.4h0.45M399.97 290.2h0.45M399.98 290.2h0.45M400.43 285.7h0.45M400.45 285.7h0.45M400.90 288.9h0.45M400.92 288.9h0.45M401.37 292.3h0.45M401.38 292.3h0.45M401.83 300.0h0.45M401.85 300.0h0.45M402.30 301.8h0.45M402.32 301.8h0.45M402.77 310.0h0.45M402.78 310.0h0.45M403.23 309.4h0.45M403.25 309.4h0.45M403.70 313.1h0.45M403.72 313.1h0.45M404.17 307.7h0.45M404.18 307.7h0.45M404.63 309.4h0.45M404.65 309.4h0.45M405.10 315.9h0.45M405.12 315.9h0.45M405.57 329.0h0.45M405.58 329.0h0.45M406.03 325.4h0.45M406.05 325.4h0.45M406.50 320.4h0.45M406.52 320.4h0.45M406.97 320.0h0.45M406.98 320.0h0.45M407.43 329.6h0.45M407.45 329.6h0.45M407.90 332.8h0.45M407.92 332.8h0.45M408.37 329.7h0.45M408.38 329.7h0.45M408.83 328.9h0.45M408.85 328.9h0.45M409.30 340.5h0.45M409.32 340.5h0.45M409.77 350.7h0.45M409.78 350.7h0.45M410.23 342.3h0.45M410.25 342.3h0.45M410.70 339.4h0.45M410.72 339.4h0.45M411.17 343.5h0.45M411.18 343.5h0.45M411.63 341.8h0.45M411.65 341.8h0.45M412.10 341.9h0.45M412.12 341.9h0.45M412.57 335.6h0.45M412.58 335.6h0.45M413.03 342.0h0.45M413.05 342.0h0.45M413.50 341.0h0.45M413.52 341.0h0.45M413.97 336.4h0.45M413.98 336.4h0.45M414.43 330.4h0.45M414.45 330.4h0.45M414.90 339.8h0.45M414.92 339.8h0.45M415.37 331.0h0.45M415.38 331.0h0.45M415.83 338.8h0.45M415.85 338.8h0.45M416.30 333.6h0.45M416.32 333.6h0.45M416.77 335.7h0.45M416.78 335.7h0.45M417.23 342.9h0.45M417.25 342.9h0.45M417.70 336.7h0.45M417.72 336.7h0.45M418.17 350.9h0.45M418.18 350.9h0.45M418.63 350.3h0.45M418.65 350.3h0.45M419.10 349.3h0.45M419.12 349.3h0.45M419.57 349.9h0.45M419.58 349.9h0.45M420.03 353.2h0.45M420.05 353.2h0.45M420.50 352.3h0.45M420.52 352.3h0.45M420.97 349.6h0.45M420.98 349.6h0.45M421.43 334.5h0.45M421.45 334.5h0.45M421.90 337.5h0.45M421.92 337.5h0.45M422.37 335.3h0.45M422.38 335.3h0.45M422.83 346.0h0.45M422.85 346.0h0.45M423.30 340.3h0.45M423.32 340.3h0.45M423.77 340.5h0.45M423.78 340.5h0.45M424.23 340.5h0.45M424.25 340.5h0.45M424.70 341.4h0.45M424.72 341.4h0.45M425.17 343.1h0.45M425.18 343.1h0.45M425.63 342.5h0.45M425.65 342.5h0.45M426.10 341.0h0.45M426.12 341.0h0.45M426.57 342.5h0.45M426.58 342.5h0.45M427.03 341.5h0.45M427.05 341.5h0.45M427.50 336.1h0.45M427.52 336.1h0.45M427.97 335.6h0.45M427.98 335.6h0.45M428.43 345.2h0.45M428.45 345.2h0.45M428.90 345.9h0.45M428.92 345.9h0.45M429.37 338.7h0.45M429.38 338.7h0.45M429.83 346.0h0.45M429.85 346.0h0.45M430.30 342.7h0.45M430.32 342.7h0.45M430.77 345.0h0.45M430.78 345.0h0.45M431.23 348.8h0.45M431.25 348.8h0.45M431.70 351.3h0.45M431.72 351.3h0.45M432.17 352.3h0.45M432.18 352.3h0.45M432.63 355.1h0.45M432.65 355.1h0.45M433.10 355.8h0.45M433.12 355.8h0.45M433.57 363.7h0.45M433.58 363.7h0.45M434.03 360.0h0.45M434.05 360.0h0.45M434.50 373.3h0.45M434.52 373.3h0.45M434.97 367.7h0.45M434.98 367.7h0.45M435.43 369.2h0.45M435.45 369.2h0.45M435.90 373.9h0.45M435.92 373.9h0.45M436.37 373.2h0.45M436.38 373.2h0.45M436.83 369.1h0.45M436.85 369.1h0.45M437.30 365.7h0.45M437.32 365.7h0.45M437.77 369.1h0.45M437.78 369.1h0.45M438.23 367.9h0.45M438.25 367.9h0.45M438.70 367.2h0.45M438.72 367.2h0.45M439.17 354.7h0.45M439.18 354.7h0.45M439.63 356.0h0.45M439.65 356.0h0.45M440.10 361.4h0.45M440.12 361.4h0.45M440.57 350.6h0.45M440.58 350.6h0.45M441.03 351.2h0.45M441.05 351.2h0.45M441.50 352.5h0.45M441.52 352.5h0.45M441.97 352.0h0.45M441.98 352.0h0.45M442.43 344.7h0.45M442.45 344.7h0.45M442.90 340.7h0.45M442.92 340.7h0.45M443.37 336.4h0.45M443.38 336.4h0.45M443.83 342.1h0.45M443.85 342.1h0.45M444.30 336.7h0.45M444.32 336.7h0.45M444.77 335.9h0.45M444.78 335.9h0.45M445.23 334.7h0.45M445.25 334.7h0.45M445.70 328.5h0.45M445.72 328.5h0.45M446.17 316.9h0.45M446.18 316.9h0.45M446.63 323.7h0.45M446.65 323.7h0.45M447.10 318.5h0.45M447.12 318.5h0.45M447.57 316.4h0.45M447.58 316.4h0.45M448.03 324.7h0.45M448.05 324.7h0.45M448.50 321.6h0.45M448.52 321.6h0.45M448.97 321.3h0.45M448.98 321.3h0.45M449.43 318.3h0.45M449.45 318.3h0.45M449.90 324.2h0.45M449.92 324.2h0.45M450.37 324.6h0.45M450.38 324.6h0.45M450.83 321.9h0.45M450.85 321.9h0.45M451.30 324.7h0.45M451.32 324.7h0.45M451.77 319.6h0.45M451.78 319.6h0.45M452.23 327.1h0.45M452.25 327.1h0.45M452.70 332.5h0.45M452.72 332.5h0.45M453.17 336.9h0.45M453.18 336.9h0.45M453.63 337.0h0.45M453.65 337.0h0.45M454.10 333.7h0.45M454.12 333.7h0.45M454.57 334.5h0.45M454.58 334.5h0.45M455.03 336.8h0.45M455.05 336.8h0.45M455.50 337.3h0.45M455.52 337.3h0.45M455.97 341.1h0.45M455.98 341.1h0.45M456.43 337.5h0.45M456.45 337.5h0.45M456.90 348.6h0.45M456.92 348.6h0.45M457.37 349.6h0.45M457.38 349.6h0.45M457.83 350.9h0.45M457.85 350.9h0.45M458.30 350.0h0.45M458.32 350.0h0.45M458.77 345.1h0.45M458.78 345.1h0.45M459.23 339.8h0.45M459.25 339.8h0.45M459.70 339.1h0.45M459.72 339.1h0.45M460.17 339.4h0.45M460.18 339.4h0.45M460.63 343.2h0.45M460.65 343.2h0.45M461.10 335.2h0.45M461.12 335.2h0.45M461.57 335.1h0.45M461.58 335.1h0.45M462.03 340.8h0.45M462.05 340.8h0.45M462.50 335.2h0.45M462.52 335.2h0.45M462.97 334.0h0.45M462.98 334.0h0.45M463.43 336.2h0.45M463.45 336.2h0.45M463.90 340.2h0.45M463.92 340.2h0.45M464.37 339.3h0.45M464.38 339.3h0.45M464.83 341.8h0.45M464.85 341.8h0.45M465.30 338.7h0.45M465.32 338.7h0.45M465.77 337.1h0.45M465.78 337.1h0.45M466.23 329.6h0.45M466.25 329.6h0.45M466.70 327.8h0.45M466.72 327.8h0.45M467.17 328.1h0.45M467.18 328.1h0.45M467.63 332.0h0.45M467.65 332.0h0.45M468.10 333.7h0.45M468.12 333.7h0.45M468.57 331.6h0.45M468.58 331.6h0.45M469.03 329.9h0.45M469.05 329.9h0.45M469.50 331.2h0.45M469.52 331.2h0.45M469.97 332.4h0.45M469.98 332.4h0.45M470.43 332.7h0.45M470.45 332.7h0.45M470.90 333.2h0.45M470.92 333.2h0.45M471.37 334.3h0.45M471.38 334.3h0.45M471.83 333.4h0.45M471.85 333.4h0.45M472.30 329.2h0.45M472.32 329.2h0.45M472.77 335.0h0.45M472.78 335.0h0.45M473.23 330.6h0.45M473.25 330.6h0.45M473.70 332.3h0.45M473.72 332.3h0.45M474.17 330.3h0.45M474.18 330.3h0.45M474.63 332.8h0.45M474.65 332.8h0.45M475.10 328.3h0.45M475.12 328.3h0.45M475.57 328.7h0.45M475.58 328.7h0.45M476.03 328.7h0.45M476.05 328.7h0.45M476.50 327.4h0.45M476.52 327.4h0.45M476.97 331.2h0.45M476.98 331.2h0.45M477.43 327.7h0.45M477.45 327.7h0.45M477.90 325.3h0.45M477.92 325.3h0.45M478.37 325.7h0.45M478.38 325.7h0.45M478.83 329.1h0.45M478.85 329.1h0.45M479.30 325.8h0.45M479.32 325.8h0.45M479.77 322.6h0.45M479.78 322.6h0.45M480.23 324.3h0.45M480.25 324.3h0.45M480.70 322.6h0.45M480.72 322.6h0.45M481.17 324.5h0.45M481.18 324.5h0.45M481.63 319.5h0.45M481.65 319.5h0.45M482.10 321.0h0.45M482.12 321.0h0.45M482.57 322.9h0.45M482.58 322.9h0.45M483.03 323.0h0.45M483.05 323.0h0.45M483.50 323.6h0.45M483.52 323.6h0.45M483.97 315.2h0.45M483.98 315.2h0.45M484.43 312.5h0.45M484.45 312.5h0.45M484.90 307.9h0.45M484.92 307.9h0.45M485.37 308.4h0.45M485.38 308.4h0.45M485.83 311.2h0.45M485.85 311.2h0.45M486.30 302.4h0.45M486.32 302.4h0.45M486.77 304.2h0.45M486.78 304.2h0.45M487.23 298.8h0.45M487.25 298.8h0.45M487.70 298.2h0.45M487.72 298.2h0.45M488.17 293.7h0.45M488.18 293.7h0.45M488.63 292.4h0.45M488.65 292.4h0.45M489.10 293.4h0.45M489.12 293.4h0.45M489.57 291.5h0.45M489.58 291.5h0.45M490.03 285.3h0.45M490.05 285.3h0.45M490.50 288.7h0.45M490.52 288.7h0.45M490.97 288.2h0.45M490.98 288.2h0.45M491.43 284.3h0.45M491.45 284.3h0.45M491.90 284.7h0.45M491.92 284.7h0.45M492.37 282.9h0.45M492.38 282.9h0.45M492.83 283.4h0.45M492.85 283.4h0.45M493.30 281.6h0.45M493.32 281.6h0.45M493.77 281.3h0.45M493.78 281.3h0.45M494.23 280.0h0.45M494.25 280.0h0.45M494.70 277.0h0.45M494.72 277.0h0.45M495.17 275.6h0.45M495.18 275.6h0.45M495.63 275.3h0.45M495.65 275.3h0.45M496.10 275.2h0.45M496.12 275.2h0.45M496.57 270.8h0.45M496.58 270.8h0.45M497.03 271.7h0.45M497.05 271.7h0.45M497.50 270.1h0.45M497.52 270.1h0.45M497.97 271.3h0.45M497.98 271.3h0.45M498.43 266.1h0.45M498.45 266.1h0.45M498.90 261.5h0.45M498.92 261.5h0.45M499.37 261.9h0.45M499.38 261.9h0.45M499.83 265.5h0.45M499.85 265.5h0.45M500.30 268.8h0.45M500.32 268.8h0.45M500.77 270.6h0.45M500.78 270.6h0.45M501.23 263.3h0.45M501.25 263.3h0.45M501.70 265.3h0.45M501.72 265.3h0.45M502.17 272.9h0.45M502.18 272.9h0.45M502.63 271.8h0.45M502.65 271.8h0.45M503.10 270.9h0.45M503.12 270.9h0.45M503.57 271.0h0.45M503.58 271.0h0.45M504.03 275.2h0.45M504.05 275.2h0.45M504.50 268.9h0.45M504.52 268.9h0.45M504.97 269.5h0.45M504.98 269.5h0.45M505.43 267.7h0.45M505.45 267.7h0.45M505.90 268.2h0.45M505.92 268.2h0.45M506.37 272.0h0.45M506.38 272.0h0.45M506.83 275.3h0.45M506.85 275.3h0.45M507.30 272.8h0.45M507.32 272.8h0.45M507.77 272.7h0.45M507.78 272.7h0.45M508.23 276.7h0.45M508.25 276.7h0.45M508.70 272.7h0.45M508.72 272.7h0.45M509.17 273.6h0.45M509.18 273.6h0.45M509.63 285.4h0.45M509.65 285.4h0.45M510.10 284.8h0.45M510.12 284.8h0.45M510.57 290.3h0.45M510.58 290.3h0.45M511.03 285.9h0.45M511.05 285.9h0.45M511.50 290.9h0.45M511.52 290.9h0.45M511.97 284.2h0.45M511.98 284.2h0.45M512.43 278.7h0.45M512.45 278.7h0.45M512.90 275.3h0.45M512.92 275.3h0.45M513.37 279.8h0.45M513.38 279.8h0.45M513.83 280.6h0.45M513.85 280.6h0.45M514.30 282.4h0.45M514.32 282.4h0.45M514.77 273.6h0.45M514.78 273.6h0.45M515.23 278.2h0.45M515.25 278.2h0.45M515.70 275.5h0.45M515.72 275.5h0.45M516.17 276.9h0.45M516.18 276.9h0.45M516.63 271.8h0.45M516.65 271.8h0.45M517.10 271.3h0.45M517.12 271.3h0.45M517.57 272.3h0.45M517.58 272.3h0.45M518.03 276.9h0.45M518.05 276.9h0.45M518.50 266.0h0.45M518.52 266.0h0.45M518.97 271.1h0.45M518.98 271.1h0.45M519.43 279.3h0.45M519.45 279.3h0.45M519.90 286.2h0.45M519.92 286.2h0.45M520.37 283.4h0.45M520.38 283.4h0.45M520.83 282.7h0.45M520.85 282.7h0.45M521.30 290.5h0.45M521.32 290.5h0.45M521.77 293.7h0.45M521.78 293.7h0.45M522.23 293.6h0.45M522.25 293.6h0.45M522.70 292.4h0.45M522.72 292.4h0.45M523.17 302.4h0.45M523.18 302.4h0.45M523.63 296.2h0.45M523.65 296.2h0.45M524.10 301.9h0.45M524.12 301.9h0.45M524.57 298.4h0.45M524.58 298.4h0.45M525.03 300.3h0.45M525.05 300.3h0.45M525.50 293.3h0.45M525.52 293.3h0.45M525.97 299.9h0.45M525.98 299.9h0.45M526.43 293.9h0.45M526.45 293.9h0.45M526.90 295.4h0.45M526.92 295.4h0.45M527.37 298.9h0.45M527.38 298.9h0.45M527.83 298.5h0.45M527.85 298.5h0.45M528.30 292.9h0.45M528.32 292.9h0.45M528.77 294.6h0.45M528.78 294.6h0.45M529.23 300.5h0.45M529.25 300.5h0.45M529.70 304.6h0.45M529.72 304.6h0.45M530.17 303.2h0.45M530.18 303.2h0.45M530.63 304.3h0.45M530.65 304.3h0.45M531.10 313.2h0.45M531.12 313.2h0.45M531.57 320.5h0.45M531.58 320.5h0.45M532.03 322.8h0.45M532.05 322.8h0.45M532.50 310.4h0.45M532.52 310.4h0.45M532.97 314.4h0.45M532.98 314.4h0.45M533.43 316.2h0.45M533.45 316.2h0.45M533.90 309.4h0.45M533.92 309.4h0.45M534.37 308.8h0.45M534.38 308.8h0.45M534.83 293.4h0.45M534.85 293.4h0.45M535.30 297.2h0.45M535.32 297.2h0.45M535.77 296.7h0.45M535.78 296.7h0.45M536.23 295.4h0.45M536.25 295.4h0.45M536.70 290.2h0.45M536.72 290.2h0.45M537.17 291.1h0.45M537.18 291.1h0.45M537.63 292.5h0.45M537.65 292.5h0.45M538.10 287.0h0.45M538.12 287.0h0.45M538.57 283.4h0.45M538.58 283.4h0.45M539.03 279.0h0.45M539.05 279.0h0.45M539.50 279.0h0.45M539.52 279.0h0.45M539.97 276.2h0.45M539.98 276.2h0.45M540.43 278.6h0.45M540.45 278.6h0.45M540.90 276.1h0.45M540.92 276.1h0.45M541.37 273.5h0.45M541.38 273.5h0.45M541.83 276.6h0.45M541.85 276.6h0.45M542.30 276.6h0.45M542.32 276.6h0.45M542.77 273.8h0.45M542.78 273.8h0.45M543.23 270.4h0.45M543.25 270.4h0.45M543.70 270.6h0.45M543.72 270.6h0.45M544.17 268.1h0.45M544.18 268.1h0.45M544.63 268.2h0.45M544.65 268.2h0.45M545.10 268.8h0.45M545.12 268.8h0.45M545.57 263.4h0.45M545.58 263.4h0.45M546.03 262.8h0.45M546.05 262.8h0.45M546.50 263.2h0.45M546.52 263.2h0.45M546.97 260.1h0.45M546.98 260.1h0.45M547.43 260.3h0.45M547.45 260.3h0.45M547.90 252.3h0.45M547.92 252.3h0.45M548.37 256.0h0.45M548.38 256.0h0.45M548.83 256.3h0.45M548.85 256.3h0.45M549.30 252.2h0.45M549.32 252.2h0.45M549.77 246.8h0.45M549.78 246.8h0.45M550.23 248.8h0.45M550.25 248.8h0.45M550.70 248.1h0.45M550.72 248.1h0.45M551.17 252.2h0.45M551.18 252.2h0.45M551.63 248.5h0.45M551.65 248.5h0.45M552.10 254.3h0.45M552.12 254.3h0.45M552.57 255.2h0.45M552.58 255.2h0.45M553.03 253.5h0.45M553.05 253.5h0.45M553.50 257.8h0.45M553.52 257.8h0.45M553.97 256.1h0.45M553.98 256.1h0.45M554.43 265.7h0.45M554.45 265.7h0.45M554.90 260.6h0.45M554.92 260.6h0.45M555.37 265.2h0.45M555.38 265.2h0.45M555.83 264.1h0.45M555.85 264.1h0.45M556.30 258.4h0.45M556.32 258.4h0.45M556.77 262.6h0.45M556.78 262.6h0.45M557.23 263.5h0.45M557.25 263.5h0.45M557.70 258.0h0.45M557.72 258.0h0.45M558.17 260.6h0.45M558.18 260.6h0.45M558.63 264.3h0.45M558.65 264.3h0.45M559.10 259.9h0.45M559.12 259.9h0.45M559.57 265.5h0.45M559.58 265.5h0.45M560.03 260.8h0.45M560.05 260.8h0.45M560.50 264.9h0.45M560.52 264.9h0.45M560.97 259.8h0.45M560.98 259.8h0.45M561.43 262.5h0.45M561.45 262.5h0.45M561.90 265.7h0.45M561.92 265.7h0.45M562.37 260.3h0.45M562.38 260.3h0.45M562.83 257.1h0.45M562.85 257.1h0.45M563.30 254.3h0.45M563.32 254.3h0.45M563.77 248.6h0.45M563.78 248.6h0.45M564.23 246.5h0.45M564.25 246.5h0.45M564.70 247.6h0.45M564.72 247.6h0.45M565.17 247.0h0.45M565.18 247.0h0.45M565.63 252.0h0.45M565.65 252.0h0.45M566.10 249.1h0.45M566.12 249.1h0.45M566.57 250.5h0.45M566.58 250.5h0.45M567.03 245.0h0.45M567.05 245.0h0.45M567.50 249.4h0.45M567.52 249.4h0.45M567.97 243.2h0.45M567.98 243.2h0.45M568.43 244.8h0.45M568.45 244.8h0.45M568.90 245.3h0.45M568.92 245.3h0.45M569.37 243.5h0.45M569.38 243.5h0.45M569.83 244.4h0.45M569.85 244.4h0.45M570.30 238.8h0.45M570.32 238.8h0.45M570.77 238.0h0.45M570.78 238.0h0.45M571.23 239.9h0.45M571.25 239.9h0.45M571.70 234.0h0.45M571.72 234.0h0.45M572.17 238.2h0.45M572.18 238.2h0.45M572.63 235.6h0.45M572.65 235.6h0.45M573.10 234.1h0.45M573.12 234.1h0.45M573.57 238.9h0.45M573.58 238.9h0.45M574.03 239.3h0.45M574.05 239.3h0.45M574.50 243.6h0.45M574.52 243.6h0.45M574.97 241.6h0.45M574.98 241.6h0.45M575.43 241.1h0.45M575.45 241.1h0.45M575.90 243.9h0.45M575.92 243.9h0.45M576.37 242.2h0.45M576.38 242.2h0.45M576.83 240.8h0.45M576.85 240.8h0.45M577.30 244.8h0.45M577.32 244.8h0.45M577.77 241.1h0.45M577.78 241.1h0.45M578.23 245.9h0.45M578.25 245.9h0.45M578.70 239.1h0.45M578.72 239.1h0.45M579.17 235.9h0.45M579.18 235.9h0.45M579.63 236.9h0.45M579.65 236.9h0.45M580.10 234.7h0.45M580.12 234.7h0.45M580.57 235.7h0.45M580.58 235.7h0.45M581.03 234.5h0.45M581.05 234.5h0.45M581.50 233.2h0.45M581.52 233.2h0.45M581.97 233.3h0.45M581.98 233.3h0.45M582.43 234.8h0.45M582.45 234.8h0.45M582.90 239.4h0.45M582.92 239.4h0.45M583.37 239.8h0.45M583.38 239.8h0.45M583.83 240.3h0.45M583.85 240.3h0.45M584.30 242.6h0.45M584.32 242.6h0.45M584.77 238.1h0.45M584.78 238.1h0.45M585.23 238.6h0.45M585.25 238.6h0.45M585.70 240.4h0.45M585.72 240.4h0.45M586.17 239.1h0.45M586.18 239.1h0.45M586.63 242.8h0.45M586.65 242.8h0.45M587.10 247.9h0.45M587.12 247.9h0.45M587.57 245.3h0.45M587.58 245.3h0.45M588.03 252.5h0.45M588.05 252.5h0.45M588.50 255.2h0.45M588.52 255.2h0.45M588.97 258.4h0.45M588.98 258.4h0.45M589.43 257.1h0.45M589.45 257.1h0.45M589.90 250.5h0.45M589.92 250.5h0.45M590.37 251.1h0.45M590.38 251.1h0.45M590.83 250.1h0.45M590.85 250.1h0.45M591.30 247.0h0.45M591.32 247.0h0.45M591.77 248.4h0.45M591.78 248.4h0.45M592.23 240.5h0.45M592.25 240.5h0.45M592.70 239.9h0.45M592.72 239.9h0.45M593.17 239.6h0.45M593.18 239.6h0.45M593.63 242.4h0.45M593.65 242.4h0.45M594.10 242.6h0.45M594.12 242.6h0.45M594.57 241.1h0.45M594.58 241.1h0.45M595.03 239.3h0.45M595.05 239.3h0.45M595.50 238.8h0.45M595.52 238.8h0.45M595.97 237.8h0.45M595.98 237.8h0.45M596.43 241.8h0.45M596.45 241.8h0.45M596.90 242.7h0.45M596.92 242.7h0.45M597.37 242.6h0.45M597.38 242.6h0.45M597.83 244.3h0.45M597.85 244.3h0.45M598.30 243.1h0.45M598.32 243.1h0.45M598.77 246.2h0.45M598.78 246.2h0.45M599.23 247.2h0.45M599.25 247.2h0.45M599.70 246.3h0.45M599.72 246.3h0.45M600.17 251.9h0.45M600.18 251.9h0.45M600.63 246.6h0.45M600.65 246.6h0.45M601.10 249.6h0.45M601.12 249.6h0.45M601.57 248.3h0.45M601.58 248.3h0.45M602.03 245.7h0.45M602.05 245.7h0.45M602.50 243.0h0.45M602.52 243.0h0.45M602.97 245.9h0.45M602.98 245.9h0.45M603.43 241.6h0.45M603.45 241.6h0.45M603.90 244.6h0.45M603.92 244.6h0.45M604.37 246.0h0.45M604.38 246.0h0.45M604.83 239.8h0.45M604.85 239.8h0.45M605.30 238.4h0.45M605.32 238.4h0.45M605.77 240.3h0.45M605.78 240.3h0.45M606.23 239.7h0.45M606.25 239.7h0.45M606.70 240.1h0.45M606.72 240.1h0.45M607.17 238.8h0.45M607.18 238.8h0.45M607.63 231.5h0.45M607.65 231.5h0.45M608.10 231.7h0.45M608.12 231.7h0.45M608.57 231.7h0.45M608.58 231.7h0.45M609.03 228.5h0.45M609.05 228.5h0.45M609.50 231.5h0.45M609.52 231.5h0.45M609.97 226.7h0.45M609.98 226.7h0.45M610.43 225.5h0.45M610.45 225.5h0.45M610.90 219.0h0.45M610.92 219.0h0.45M611.37 224.9h0.45M611.38 224.9h0.45M611.83 220.0h0.45M611.85 220.0h0.45M612.30 214.3h0.45M612.32 214.3h0.45M612.77 216.2h0.45M612.78 216.2h0.45M613.23 214.2h0.45M613.25 214.2h0.45M613.70 212.0h0.45M613.72 212.0h0.45M614.17 210.0h0.45M614.18 210.0h0.45M614.63 210.1h0.45M614.65 210.1h0.45M615.10 208.6h0.45M615.12 208.6h0.45M615.57 211.0h0.45M615.58 211.0h0.45M616.03 219.3h0.45M616.05 219.3h0.45M616.50 223.8h0.45M616.52 223.8h0.45M616.97 225.1h0.45M616.98 225.1h0.45M617.43 224.0h0.45M617.45 224.0h0.45M617.90 223.6h0.45M617.92 223.6h0.45M618.37 231.8h0.45M618.38 231.8h0.45M618.83 230.0h0.45M618.85 230.0h0.45M619.30 235.6h0.45M619.32 235.6h0.45M619.77 229.3h0.45M619.78 229.3h0.45M620.23 225.4h0.45M620.25 225.4h0.45M620.70 228.4h0.45M620.72 228.4h0.45M621.17 242.2h0.45M621.18 242.2h0.45M621.63 246.4h0.45M621.65 246.4h0.45M622.10 257.7h0.45M622.12 257.7h0.45M622.57 254.8h0.45M622.58 254.8h0.45M623.03 262.6h0.45M623.05 262.6h0.45M623.50 261.8h0.45M623.52 261.8h0.45M623.97 262.6h0.45M623.98 262.6h0.45M624.43 256.5h0.45M624.45 256.5h0.45M624.90 255.2h0.45M624.92 255.2h0.45M625.37 251.5h0.45M625.38 251.5h0.45M625.83 247.4h0.45M625.85 247.4h0.45M626.30 233.5h0.45M626.32 233.5h0.45M626.77 232.5h0.45M626.78 232.5h0.45M627.23 240.0h0.45M627.25 240.0h0.45M627.70 234.5h0.45M627.72 234.5h0.45M628.17 232.8h0.45M628.18 232.8h0.45M628.63 232.5h0.45M628.65 232.5h0.45M629.10 235.4h0.45M629.12 235.4h0.45M629.57 231.8h0.45M629.58 231.8h0.45M630.03 236.4h0.45M630.05 236.4h0.45M630.50 235.8h0.45M630.52 235.8h0.45M630.97 237.3h0.45M630.98 237.3h0.45M631.43 233.4h0.45M631.45 233.4h0.45M631.90 236.1h0.45M631.92 236.1h0.45M632.37 234.2h0.45M632.38 234.2h0.45M632.83 230.8h0.45M632.85 230.8h0.45M633.30 229.6h0.45M633.32 229.6h0.45M633.77 233.6h0.45M633.78 233.6h0.45M634.23 221.7h0.45M634.25 221.7h0.45M634.70 226.2h0.45M634.72 226.2h0.45M635.17 216.4h0.45M635.18 216.4h0.45M635.63 215.1h0.45M635.65 215.1h0.45M636.10 211.6h0.45M636.12 211.6h0.45M636.57 212.8h0.45M636.58 212.8h0.45M637.03 208.3h0.45M637.05 208.3h0.45M637.50 205.6h0.45M637.52 205.6h0.45M637.97 200.2h0.45M637.98 200.2h0.45M638.43 196.8h0.45M638.45 196.8h0.45M638.90 202.0h0.45M638.92 202.0h0.45M639.37 201.5h0.45M639.38 201.5h0.45M639.83 203.2h0.45M639.85 203.2h0.45M640.30 205.3h0.45M640.32 205.3h0.45M640.77 201.8h0.45M640.78 201.8h0.45M641.23 207.0h0.45M641.25 207.0h0.45M641.70 205.2h0.45M641.72 205.2h0.45M642.17 208.8h0.45M642.18 208.8h0.45M642.63 208.8h0.45M642.65 208.8h0.45M643.10 209.1h0.45M643.12 209.1h0.45M643.57 203.3h0.45M643.58 203.3h0.45M644.03 208.6h0.45M644.05 208.6h0.45M644.50 208.8h0.45M644.52 208.8h0.45M644.97 209.0h0.45M644.98 209.0h0.45M645.43 203.8h0.45M645.45 203.8h0.45M645.90 204.4h0.45M645.92 204.4h0.45M646.37 203.4h0.45M646.38 203.4h0.45M646.83 202.3h0.45M646.85 202.3h0.45M647.30 210.4h0.45M647.32 210.4h0.45M647.77 210.1h0.45M647.78 210.1h0.45M648.23 208.2h0.45M648.25 208.2h0.45M648.70 210.3h0.45M648.72 210.3h0.45M649.17 205.1h0.45M649.18 205.1h0.45M649.63 198.3h0.45M649.65 198.3h0.45M650.10 193.5h0.45M650.12 193.5h0.45M650.57 193.5h0.45M650.58 193.5h0.45M651.03 198.2h0.45M651.05 198.2h0.45M651.50 192.3h0.45M651.52 192.3h0.45M651.97 191.0h0.45M651.98 191.0h0.45M652.43 189.0h0.45M652.45 189.0h0.45M652.90 173.4h0.45M652.92 173.4h0.45M653.37 170.9h0.45M653.38 170.9h0.45M653.83 165.2h0.45M653.85 165.2h0.45M654.30 167.8h0.45M654.32 167.8h0.45M654.77 156.1h0.45M654.78 156.1h0.45M655.23 153.1h0.45M655.25 153.1h0.45M655.70 157.6h0.45M655.72 157.6h0.45M656.17 158.2h0.45M656.18 158.2h0.45M656.63 165.2h0.45M656.65 165.2h0.45M657.10 163.5h0.45M657.12 163.5h0.45M657.57 158.4h0.45M657.58 158.4h0.45M658.03 159.3h0.45M658.05 159.3h0.45M658.50 157.2h0.45M658.52 157.2h0.45M658.97 161.3h0.45M658.98 161.3h0.45M659.43 153.2h0.45M659.45 153.2h0.45M659.90 150.8h0.45M659.92 150.8h0.45M660.37 149.4h0.45M660.38 149.4h0.45M660.83 137.5h0.45M660.85 137.5h0.45M661.30 137.9h0.45M661.32 137.9h0.45M661.77 130.0h0.45M661.78 130.0h0.45M662.23 127.4h0.45M662.25 127.4h0.45M662.70 117.7h0.45M662.72 117.7h0.45M663.17 116.2h0.45M663.18 116.2h0.45M663.63 113.9h0.45M663.65 113.9h0.45M664.10 114.6h0.45M664.12 114.6h0.45M664.57 116.5h0.45M664.58 116.5h0.45M665.03 106.6h0.45M665.05 106.6h0.45M665.50 107.2h0.45M665.52 107.2h0.45M665.97 104.0h0.45M665.98 104.0h0.45M666.43 107.3h0.45M666.45 107.3h0.45M666.90 102.5h0.45M666.92 102.5h0.45M667.37 112.6h0.45M667.38 112.6h0.45M667.83 113.6h0.45M667.85 113.6h0.45M668.30 121.3h0.45M668.32 121.3h0.45M668.77 115.3h0.45M668.78 115.3h0.45M669.23 128.8h0.45M669.25 128.8h0.45M669.70 122.3h0.45M669.72 122.3h0.45M670.17 121.5h0.45M670.18 121.5h0.45M670.63 130.4h0.45M670.65 130.4h0.45M671.10 131.6h0.45M671.12 131.6h0.45M671.57 126.6h0.45M671.58 126.6h0.45M672.03 134.0h0.45M672.05 134.0h0.45M672.50 131.4h0.45M672.52 131.4h0.45M672.97 143.2h0.45M672.98 143.2h0.45M673.43 142.2h0.45M673.45 142.2h0.45M673.90 140.1h0.45M673.92 140.1h0.45M674.37 129.8h0.45M674.38 129.8h0.45M674.83 122.9h0.45M674.85 122.9h0.45M675.30 123.3h0.45M675.32 123.3h0.45M675.77 120.7h0.45M675.78 120.7h0.45M676.23 120.1h0.45M676.25 120.1h0.45M676.70 113.0h0.45M676.72 113.0h0.45M677.17 118.8h0.45M677.18 118.8h0.45M677.63 110.3h0.45M677.65 110.3h0.45M678.10 108.9h0.45M678.12 108.9h0.45M678.57 108.0h0.45M678.58 108.0h0.45M679.03 115.4h0.45M679.05 115.4h0.45M679.50 112.0h0.45M679.52 112.0h0.45M679.97 115.0h0.45M679.98 115.0h0.45M680.43 123.8h0.45M680.45 123.8h0.45M680.90 117.5h0.45M680.92 117.5h0.45M681.37 120.0h0.45M681.38 120.0h0.45M681.83 125.4h0.45M681.85 125.4h0.45M682.30 131.1h0.45M682.32 131.1h0.45M682.77 131.1h0.45M682.78 131.1h0.45M683.23 130.8h0.45M683.25 130.8h0.45M683.70 130.5h0.45M683.72 130.5h0.45M684.17 131.6h0.45M684.18 131.6h0.45M684.63 130.2h0.45M684.65 130.2h0.45M685.10 141.8h0.45M685.12 141.8h0.45M685.57 146.3h0.45M685.58 146.3h0.45M686.03 147.4h0.45M686.05 147.4h0.45M686.50 147.3h0.45M686.52 147.3h0.45M686.97 154.6h0.45M686.98 154.6h0.45M687.43 160.4h0.45M687.45 160.4h0.45M687.90 167.1h0.45M687.92 167.1h0.45M688.37 162.3h0.45M688.38 162.3h0.45M688.83 171.5h0.45M688.85 171.5h0.45M689.30 186.3h0.45M689.32 186.3h0.45M689.77 178.2h0.45M689.78 178.2h0.45M690.23 181.0h0.45M690.25 181.0h0.45M690.70 189.3h0.45M690.72 189.3h0.45M691.17 194.2h0.45M691.18 194.2h0.45M691.63 200.6h0.45M691.65 200.6h0.45M692.10 202.4h0.45M692.12 202.4h0.45M692.57 202.7h0.45M692.58 202.7h0.45M693.03 204.3h0.45M693.05 204.3h0.45M693.50 206.2h0.45M693.52 206.2h0.45M693.97 208.7h0.45M693.98 208.7h0.45M694.43 205.4h0.45M694.45 205.4h0.45M694.90 206.2h0.45M694.92 206.2h0.45M695.37 203.1h0.45M695.38 203.1h0.45M695.83 208.6h0.45M695.85 208.6h0.45M696.30 205.0h0.45M696.32 205.0h0.45M696.77 188.3h0.45M696.78 188.3h0.45M697.23 206.0h0.45M697.25 206.0h0.45M697.70 191.0h0.45M697.72 191.0h0.45M698.17 197.3h0.45M698.18 197.3h0.45M698.63 204.8h0.45M698.65 204.8h0.45M699.10 210.9h0.45M699.12 210.9h0.45M699.57 231.3h0.45M699.58 231.3h0.45M700.03 232.7h0.45M700.05 232.7h0.45M700.50 222.3h0.45M700.52 222.3h0.45M700.97 241.2h0.45M700.98 241.2h0.45M701.43 220.8h0.45M701.45 220.8h0.45M701.90 225.4h0.45M701.92 225.4h0.45M702.37 230.0h0.45M702.38 230.0h0.45M702.83 221.9h0.45M702.85 221.9h0.45M703.30 232.1h0.45M703.32 232.1h0.45M703.77 244.8h0.45M703.78 244.8h0.45M704.23 244.4h0.45M704.25 244.4h0.45M704.70 240.0h0.45M704.72 240.0h0.45M705.17 226.0h0.45M705.18 226.0h0.45M705.63 218.7h0.45M705.65 218.7h0.45M706.10 213.6h0.45M706.12 213.6h0.45M706.57 216.8h0.45M706.58 216.8h0.45M707.03 213.8h0.45M707.05 213.8h0.45M707.50 218.8h0.45" fill="none" stroke="#000" stroke-width="0.8"/>
<rect x="82.7" y="318.1" width="34.0" height="18" fill="#fff"/><rect x="80.8" y="332.8" width="38.9" height="18" fill="#fff"/><rect x="93.8" y="472.8" width="31.6" height="18" fill="#fff"/><rect x="91.4" y="487.4" width="34.0" height="18" fill="#fff"/><rect x="199.4" y="220.4" width="29.2" height="18" fill="#fff"/><rect x="195.3" y="235.4" width="38.9" height="18" fill="#fff"/><rect x="203.6" y="319.5" width="38.9" height="18" fill="#fff"/><rect x="208.6" y="333.8" width="29.2" height="18" fill="#fff"/><rect x="287.4" y="133.2" width="38.9" height="18" fill="#fff"/><rect x="287.9" y="149.2" width="38.9" height="18" fill="#fff"/><rect x="375.0" y="226.2" width="34.0" height="18" fill="#fff"/><rect x="372.8" y="241.2" width="38.9" height="18" fill="#fff"/><rect x="354.0" y="365.7" width="38.9" height="18" fill="#fff"/><rect x="356.7" y="380.1" width="34.0" height="18" fill="#fff"/><rect x="419.7" y="383.2" width="31.6" height="18" fill="#fff"/><rect x="415.9" y="398.0" width="38.9" height="18" fill="#fff"/><rect x="481.8" y="222.2" width="34.0" height="18" fill="#fff"/><rect x="480.6" y="235.9" width="38.9" height="18" fill="#fff"/><rect x="512.9" y="331.2" width="38.9" height="18" fill="#fff"/><rect x="512.8" y="346.1" width="38.9" height="18" fill="#fff"/><rect x="590.3" y="171.2" width="34.0" height="18" fill="#fff"/><rect x="588.1" y="186.2" width="38.9" height="18" fill="#fff"/><rect x="603.1" y="284.2" width="38.9" height="18" fill="#fff"/><rect x="609.2" y="299.8" width="29.2" height="18" fill="#fff"/><rect x="644.6" y="62.2" width="38.9" height="18" fill="#fff"/><rect x="644.8" y="75.8" width="38.9" height="18" fill="#fff"/><rect x="680.4" y="269.8" width="38.9" height="18" fill="#fff"/><rect x="686.9" y="284.8" width="29.2" height="18" fill="#fff"/>
<g font-size="8.7" font-weight="bold" fill="#1a1a1a" stroke="#1a1a1a" stroke-width="0.3" text-anchor="middle" font-family="Liberation Sans, Arial, sans-serif"><text x="99.7" y="329.6">2/19/20</text><text x="100.2" y="344.3">1,052.19</text><text x="109.6" y="484.3">663.43</text><text x="108.4" y="498.9">3/18/20</text><text x="214" y="231.9">2/8/21</text><text x="214.7" y="246.9">1,395.85</text><text x="223" y="331">1,201.65</text><text x="223.2" y="345.3">3/5/21</text><text x="306.8" y="144.7">11/22/21</text><text x="307.3" y="160.7">1,699.45</text><text x="392" y="237.7">8/16/22</text><text x="392.2" y="252.7">1,375.13</text><text x="373.4" y="377.2">1,039.99</text><text x="373.7" y="391.6">6/16/22</text><text x="435.5" y="394.7">981.17</text><text x="435.3" y="409.5">12/28/22</text><text x="498.8" y="233.7">7/19/23</text><text x="500" y="247.4">1,391.32</text><text x="532.3" y="342.7">1,162.19</text><text x="532.2" y="357.6">10/26/23</text><text x="607.3" y="182.7">7/11/24</text><text x="607.5" y="197.7">1,575.50</text><text x="622.5" y="295.7">1,328.23</text><text x="623.8" y="311.3">8/5/24</text><text x="664" y="73.75">12/18/24</text><text x="664.2" y="87.25">1,964.52</text><text x="699.8" y="281.3">1,376.61</text><text x="701.5" y="296.3">4/7/25</text></g>
<rect x="149" y="419.5" width="338.4" height="88.5" fill="#fff"/>
<g font-size="12.1" font-weight="bold" stroke-width="0.25" font-family="Liberation Sans, Arial, sans-serif" style="white-space:pre"><text x="152.5" y="434.0" xml:space="preserve"><tspan fill="#1c1cd8" stroke="#1c1cd8">All-time print high was on December 18, 2024.</tspan></text><text x="152.5" y="450.4" xml:space="preserve"><tspan fill="#1c1cd8" stroke="#1c1cd8">2025 year-to-date:  </tspan><tspan fill="#e02020" stroke="#e02020">down 13.72%.</tspan></text><text x="152.5" y="466.5" xml:space="preserve"><tspan fill="#1c1cd8" stroke="#1c1cd8">From the print low on March 18, 2020:  </tspan><tspan fill="#238a23" stroke="#238a23">up 138.13%.</tspan></text><text x="152.5" y="482.9" xml:space="preserve"><tspan fill="#1c1cd8" stroke="#1c1cd8">From the print high on December 18, 2024:  </tspan><tspan fill="#e02020" stroke="#e02020">down 19.58%</tspan></text><text x="152.5" y="499.3" xml:space="preserve"><tspan fill="#1c1cd8" stroke="#1c1cd8">From the cycle print low on March 6, 2009:  </tspan><tspan fill="#238a23" stroke="#238a23">up 1,170.27%.</tspan></text></g>
<rect x="57.5" y="58.3" width="697.0" height="455.99999999999994" fill="none" stroke="#2a2a2a" stroke-width="1.5"/>
<text x="589.5" y="586.9" font-size="9.5" font-weight="bold" fill="#222" font-family="Liberation Sans, Arial, sans-serif">Copyright © 2025 Thechartstore.com</text>
</svg>
</body></html>
